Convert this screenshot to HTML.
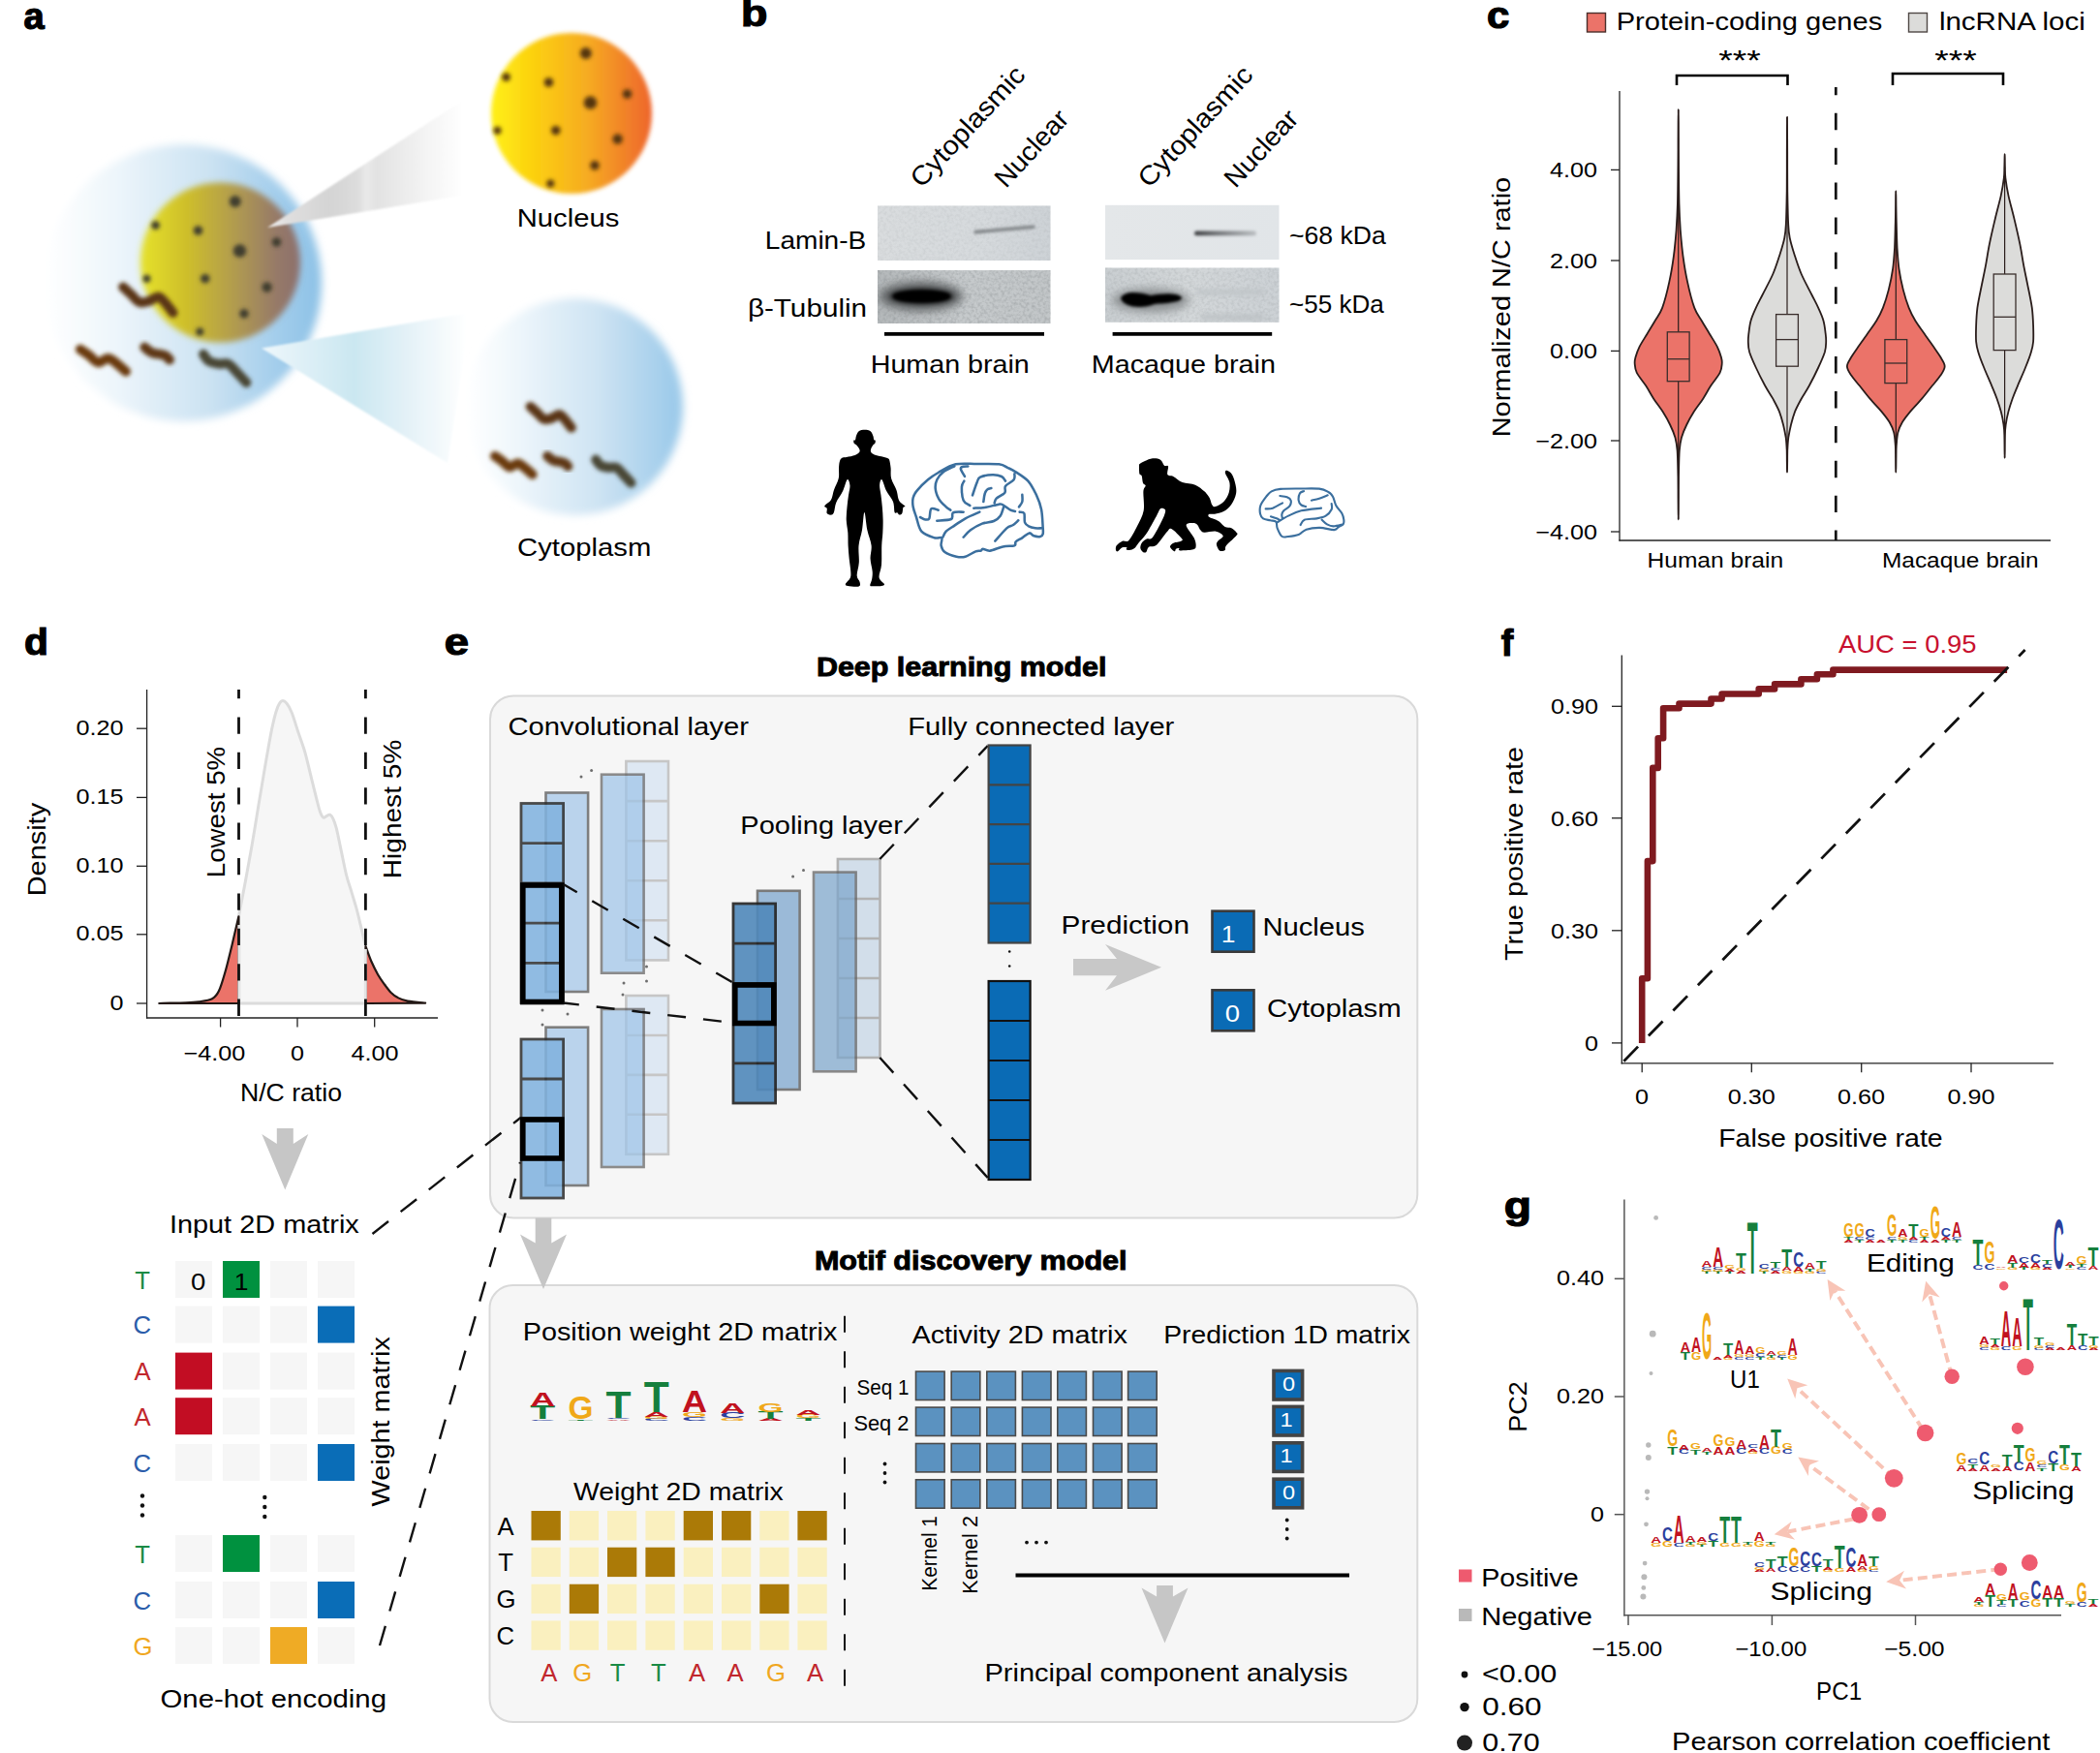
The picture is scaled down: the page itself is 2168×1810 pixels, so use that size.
<!DOCTYPE html>
<html lang="en"><head><meta charset="utf-8"><title>Figure</title>
<style>
html,body{margin:0;padding:0;background:#fff}
svg{display:block}
text{font-family:"Liberation Sans", sans-serif}
</style></head><body>
<svg width="2168" height="1810" viewBox="0 0 2168 1810">
<defs>
<filter id="bl1" x="-60%" y="-60%" width="220%" height="220%"><feGaussianBlur stdDeviation="1.2"/></filter>
<filter id="bl15" x="-60%" y="-60%" width="220%" height="220%"><feGaussianBlur stdDeviation="1.6"/></filter>
<filter id="bl2" x="-60%" y="-60%" width="220%" height="220%"><feGaussianBlur stdDeviation="2.2"/></filter>
<filter id="bl3" x="-60%" y="-60%" width="220%" height="220%"><feGaussianBlur stdDeviation="3"/></filter>
<filter id="bl4" x="-60%" y="-60%" width="220%" height="220%"><feGaussianBlur stdDeviation="4"/></filter>
<filter id="bl6" x="-60%" y="-60%" width="220%" height="220%"><feGaussianBlur stdDeviation="6"/></filter>
<linearGradient id="gCell" x1="0" y1="0" x2="1" y2="0">
<stop offset="0" stop-color="#ffffff"/><stop offset="0.25" stop-color="#eef6fb"/><stop offset="0.6" stop-color="#cbe2f2"/><stop offset="0.82" stop-color="#a6cfec"/><stop offset="1" stop-color="#8cc1e6"/></linearGradient>
<linearGradient id="gCell2" x1="0" y1="0" x2="1" y2="0">
<stop offset="0" stop-color="#ffffff"/><stop offset="0.2" stop-color="#f1f8fc"/><stop offset="0.6" stop-color="#cfe4f3"/><stop offset="1" stop-color="#98c8e9"/></linearGradient>
<linearGradient id="gNucS" x1="0" y1="0" x2="1" y2="0">
<stop offset="0" stop-color="#e6e22a"/><stop offset="0.3" stop-color="#cdbd2c"/><stop offset="0.6" stop-color="#b09a50"/><stop offset="0.85" stop-color="#967a68"/><stop offset="1" stop-color="#8c6f6d"/></linearGradient>
<linearGradient id="gNucB" x1="0" y1="0" x2="1" y2="0">
<stop offset="0" stop-color="#fff01a"/><stop offset="0.25" stop-color="#fcd20e"/><stop offset="0.6" stop-color="#f6ab22"/><stop offset="1" stop-color="#ee652d"/></linearGradient>
<linearGradient id="gConeG" gradientUnits="userSpaceOnUse" x1="276" y1="0" x2="478" y2="0">
<stop offset="0" stop-color="#f0eeee"/><stop offset="0.094" stop-color="#e0dfdf"/><stop offset="0.317" stop-color="#d4d4d4"/><stop offset="0.46" stop-color="#dcdcdc"/><stop offset="0.505" stop-color="#e9e9e9"/><stop offset="0.56" stop-color="#e2e2e2"/><stop offset="0.8" stop-color="#f3f3f3"/><stop offset="1" stop-color="#ffffff"/></linearGradient>
<linearGradient id="gConeB" gradientUnits="userSpaceOnUse" x1="270" y1="0" x2="482" y2="0">
<stop offset="0" stop-color="#eef7fb"/><stop offset="0.45" stop-color="#cbe7f1"/><stop offset="0.7" stop-color="#e3f1f7"/><stop offset="1" stop-color="#ffffff"/></linearGradient>
</defs>
<circle cx="189" cy="292" r="143" fill="url(#gCell)" filter="url(#bl4)"/>
<circle cx="227.5" cy="271" r="82.5" fill="url(#gNucS)" filter="url(#bl3)"/>
<g fill="#3f3d2e" filter="url(#bl2)"><circle cx="242.8" cy="208.0" r="6.0"/><circle cx="160.6" cy="232.6" r="4.4"/><circle cx="204.5" cy="238.0" r="4.8"/><circle cx="247.5" cy="259.0" r="6.8"/><circle cx="285.5" cy="250.0" r="4.8"/><circle cx="151.5" cy="287.7" r="4.0"/><circle cx="211.8" cy="287.7" r="4.8"/><circle cx="275.6" cy="296.5" r="5.2"/><circle cx="252.0" cy="323.8" r="4.8"/><circle cx="206.3" cy="342.5" r="4.0"/></g>
<circle cx="590" cy="117" r="83" fill="url(#gNucB)" filter="url(#bl2)"/>
<g fill="#55350e" filter="url(#bl2)"><circle cx="604.8" cy="55.0" r="6.0"/><circle cx="522.6" cy="79.6" r="4.4"/><circle cx="566.5" cy="85.0" r="4.8"/><circle cx="609.5" cy="106.0" r="6.8"/><circle cx="647.5" cy="97.0" r="4.8"/><circle cx="513.5" cy="134.7" r="4.0"/><circle cx="573.8" cy="134.7" r="4.8"/><circle cx="637.6" cy="143.5" r="5.2"/><circle cx="614.0" cy="170.8" r="4.8"/><circle cx="568.3" cy="189.5" r="4.0"/></g>
<circle cx="593" cy="420" r="112" fill="url(#gCell2)" filter="url(#bl4)"/>
<path d="M127.1 296.4C128.5 297.7 132.8 301.7 135.7 304.3C138.6 306.9 141.2 311.0 144.3 312.1C147.4 313.2 151.1 311.6 154.3 310.7C157.5 309.8 160.8 305.9 163.6 306.4C166.4 306.9 168.9 310.9 171.4 313.6C173.9 316.4 177.4 321.3 178.6 322.9" fill="none" stroke="#5a3413" stroke-width="10" stroke-linecap="round" filter="url(#bl2)"/>
<path d="M82.9 360.7C84.4 361.8 89.0 364.8 92.1 367.1C95.2 369.4 98.2 373.8 101.4 374.3C104.6 374.8 108.3 369.9 111.4 370.0C114.5 370.1 116.9 372.7 120.0 375.0C123.1 377.3 128.3 382.2 130.0 383.6" fill="none" stroke="#6a3a0e" stroke-width="10" stroke-linecap="round" filter="url(#bl2)"/>
<path d="M149.3 358.6C150.6 359.6 154.5 363.1 157.1 364.3C159.7 365.5 162.7 365.2 165.0 365.7C167.3 366.2 169.0 366.2 170.7 367.1C172.4 368.1 174.3 370.7 175.0 371.4" fill="none" stroke="#5e3714" stroke-width="10" stroke-linecap="round" filter="url(#bl2)"/>
<path d="M210.0 365.7C210.9 366.9 213.1 371.2 215.7 372.9C218.3 374.6 222.4 375.2 225.7 375.7C229.0 376.2 232.6 374.3 235.7 375.7C238.8 377.1 241.2 381.1 244.3 384.3C247.4 387.5 252.6 393.2 254.3 395.0" fill="none" stroke="#4a4636" stroke-width="10" stroke-linecap="round" filter="url(#bl2)"/>
<path d="M547.6 419.9C548.8 421.0 552.3 424.2 554.7 426.4C557.0 428.5 559.2 431.9 561.7 432.8C564.2 433.6 567.3 432.4 569.9 431.6C572.5 430.8 575.2 427.7 577.5 428.1C579.9 428.5 581.9 431.7 583.9 434.0C586.0 436.3 588.8 440.4 589.8 441.6" fill="none" stroke="#5a3413" stroke-width="10" stroke-linecap="round" filter="url(#bl2)"/>
<path d="M511.0 471.0C512.3 471.9 516.0 474.4 518.5 476.2C521.1 478.1 523.5 481.8 526.2 482.2C528.8 482.5 531.8 478.5 534.4 478.6C536.9 478.7 538.9 480.9 541.4 482.7C544.0 484.6 548.3 488.6 549.6 489.8" fill="none" stroke="#6a3a0e" stroke-width="10" stroke-linecap="round" filter="url(#bl2)"/>
<path d="M565.2 471.0C566.3 471.8 569.5 474.7 571.6 475.7C573.7 476.6 576.2 476.4 578.1 476.8C579.9 477.2 581.4 477.2 582.7 478.0C584.1 478.7 585.7 480.9 586.3 481.5" fill="none" stroke="#5e3714" stroke-width="10" stroke-linecap="round" filter="url(#bl2)"/>
<path d="M615.2 474.6C616.0 475.6 617.7 479.1 619.9 480.5C622.0 481.9 625.3 482.4 628.1 482.8C630.8 483.2 633.7 481.6 636.3 482.8C638.8 484.0 640.8 487.2 643.3 489.9C645.9 492.5 650.2 497.2 651.5 498.6" fill="none" stroke="#4a4636" stroke-width="10" stroke-linecap="round" filter="url(#bl2)"/>
<path d="M276 235L488 97L488 200Z" fill="url(#gConeG)" filter="url(#bl1)"/>
<path d="M270 359.5L486 322.8L462 478Z" fill="url(#gConeB)" filter="url(#bl1)"/>
<text x="533.7" y="234.0" font-size="26.5" textLength="105.6" lengthAdjust="spacingAndGlyphs">Nucleus</text>
<text x="534.0" y="574.0" font-size="26.5" textLength="138.3" lengthAdjust="spacingAndGlyphs">Cytoplasm</text>
<text x="24.5" y="30.0" font-size="38" textLength="21.2" lengthAdjust="spacingAndGlyphs" font-weight="bold" stroke="#000" stroke-width="1.2">a</text>
<text x="764.9" y="27.4" font-size="38" textLength="27.4" lengthAdjust="spacingAndGlyphs" font-weight="bold" stroke="#000" stroke-width="1.2">b</text>
<defs>
<filter id="bb1" x="-30%" y="-100%" width="160%" height="300%"><feGaussianBlur stdDeviation="1.6"/></filter>
<filter id="bb2" x="-30%" y="-100%" width="160%" height="300%"><feGaussianBlur stdDeviation="2.6"/></filter>
<filter id="bb3" x="-30%" y="-100%" width="160%" height="300%"><feGaussianBlur stdDeviation="5"/></filter>
<linearGradient id="gB1" x1="0" y1="0" x2="1" y2="0"><stop offset="0" stop-color="#d9dcde"/><stop offset="0.6" stop-color="#d6dadd"/><stop offset="1" stop-color="#cdd2d6"/></linearGradient>
<linearGradient id="gB2" x1="0" y1="0" x2="1" y2="0"><stop offset="0" stop-color="#b4b8ba"/><stop offset="0.5" stop-color="#c6cacc"/><stop offset="1" stop-color="#c2c6c8"/></linearGradient>
<linearGradient id="gB3" x1="0" y1="0" x2="1" y2="0"><stop offset="0" stop-color="#e4e7e9"/><stop offset="1" stop-color="#e1e5e8"/></linearGradient>
<linearGradient id="gB4" x1="0" y1="0" x2="1" y2="0"><stop offset="0" stop-color="#c9ced1"/><stop offset="0.5" stop-color="#d3d7d9"/><stop offset="1" stop-color="#ccd1d5"/></linearGradient>
<linearGradient id="gBand" x1="0" y1="0" x2="1" y2="0"><stop offset="0" stop-color="#3c3e40"/><stop offset="0.35" stop-color="#6c6f72"/><stop offset="1" stop-color="#b9bdc0"/></linearGradient>
<filter id="grain" x="0" y="0" width="100%" height="100%"><feTurbulence type="fractalNoise" baseFrequency="0.32" numOctaves="2" seed="7" result="n"/><feColorMatrix in="n" type="matrix" values="0 0 0 0 0.25  0 0 0 0 0.27  0 0 0 0 0.28  1.6 0 0 0 -0.62" result="g"/><feComposite in="g" in2="SourceGraphic" operator="in"/></filter>
<clipPath id="cB2"><rect x="906" y="279" width="178.5" height="55"/></clipPath>
<clipPath id="cB4"><rect x="1141" y="276.5" width="179.5" height="56.3"/></clipPath>
</defs>
<rect x="906.0" y="212.4" width="178.5" height="56.6" fill="url(#gB1)"/>
<rect x="906.0" y="279.0" width="178.5" height="55.0" fill="url(#gB2)"/>
<rect x="1141.0" y="211.8" width="179.5" height="56.3" fill="url(#gB3)"/>
<rect x="1141.0" y="276.5" width="179.5" height="56.3" fill="url(#gB4)"/>
<rect x="906.0" y="279.0" width="178.5" height="55.0" fill="#000" filter="url(#grain)" opacity="0.55"/>
<rect x="1141.0" y="276.5" width="179.5" height="56.3" fill="#000" filter="url(#grain)" opacity="0.3"/>
<rect x="906.0" y="212.4" width="178.5" height="56.6" fill="#000" filter="url(#grain)" opacity="0.18"/>
<path d="M1007 239.6L1067 234.2" stroke="#808487" stroke-width="3.6" stroke-linecap="round" filter="url(#bb1)"/>
<g clip-path="url(#cB2)"><ellipse cx="951" cy="306" rx="43" ry="15" fill="#5c5f61" filter="url(#bb3)"/><ellipse cx="951.5" cy="306" rx="32" ry="7.4" fill="#000" filter="url(#bb2)"/><ellipse cx="951.5" cy="306" rx="29" ry="5.6" fill="#000" filter="url(#bb1)"/></g>
<rect x="1233" y="238.6" width="64" height="4.6" rx="2.3" fill="url(#gBand)" filter="url(#bb1)"/>
<g clip-path="url(#cB4)"><ellipse cx="1188" cy="310" rx="40" ry="12" fill="#8a8e90" filter="url(#bb3)"/><path d="M1157 308C1160 300 1175 301 1188 305C1200 303 1215 302 1220 307C1221 312 1205 313 1192 314C1180 319 1160 318 1157 308Z" fill="#000" filter="url(#bb1)"/><rect x="1235" y="299" width="70" height="5" fill="#bfc4c7" filter="url(#bb2)"/><rect x="1240" y="325" width="65" height="5" fill="#bcc1c4" filter="url(#bb2)"/></g>
<line x1="913.0" y1="344.8" x2="1078.0" y2="344.8" stroke="#000" stroke-width="3.8"/>
<line x1="1148.6" y1="344.8" x2="1313.2" y2="344.8" stroke="#000" stroke-width="3.8"/>
<text x="898.7" y="385.0" font-size="26.5" textLength="164.1" lengthAdjust="spacingAndGlyphs">Human brain</text>
<text x="1126.7" y="385.0" font-size="26.5" textLength="190.2" lengthAdjust="spacingAndGlyphs">Macaque brain</text>
<text x="789.8" y="257.0" font-size="26.5" textLength="104.5" lengthAdjust="spacingAndGlyphs">Lamin-B</text>
<text x="771.9" y="327.0" font-size="26.5" textLength="123.2" lengthAdjust="spacingAndGlyphs">β-Tubulin</text>
<text x="1330.9" y="252.0" font-size="26.5" textLength="99.9" lengthAdjust="spacingAndGlyphs">~68 kDa</text>
<text x="1331.0" y="323.0" font-size="26.5" textLength="97.8" lengthAdjust="spacingAndGlyphs">~55 kDa</text>
<text x="951.0" y="194.0" font-size="27.5" textLength="159.2" lengthAdjust="spacingAndGlyphs" transform="rotate(-47 952.5 194.0)">Cytoplasmic</text>
<text x="1037.7" y="193.5" font-size="27.5" textLength="97.7" lengthAdjust="spacingAndGlyphs" transform="rotate(-47 1040.0 193.5)">Nuclear</text>
<text x="1186.0" y="194.0" font-size="27.5" textLength="159.2" lengthAdjust="spacingAndGlyphs" transform="rotate(-47 1187.5 194.0)">Cytoplasmic</text>
<text x="1274.7" y="193.5" font-size="27.5" textLength="97.7" lengthAdjust="spacingAndGlyphs" transform="rotate(-47 1277.0 193.5)">Nuclear</text>
<g transform="translate(830 430) scale(0.13333)"><path d="M470.0 104.0C455.0 104.0 435.8 107.3 425.0 115.0C414.2 122.7 409.5 139.2 405.0 150.0C400.5 160.8 401.3 174.0 398.0 180.0C394.7 186.0 386.7 181.3 385.0 186.0C383.3 190.7 383.8 201.5 388.0 208.0C392.2 214.5 403.0 217.2 410.0 225.0C417.0 232.8 427.0 246.2 430.0 255.0C433.0 263.8 433.8 270.5 428.0 278.0C422.2 285.5 411.3 293.8 395.0 300.0C378.7 306.2 347.2 311.3 330.0 315.0C312.8 318.7 301.0 316.2 292.0 322.0C283.0 327.8 279.7 337.0 276.0 350.0C272.3 363.0 271.3 378.3 270.0 400.0C268.7 421.7 274.3 451.7 268.0 480.0C261.7 508.3 241.7 542.5 232.0 570.0C222.3 597.5 222.0 624.7 210.0 645.0C198.0 665.3 165.3 680.8 160.0 692.0C154.7 703.2 175.3 703.2 178.0 712.0C180.7 720.8 174.3 737.3 176.0 745.0C177.7 752.7 182.0 755.2 188.0 758.0C194.0 760.8 204.7 764.7 212.0 762.0C219.3 759.3 225.7 758.2 232.0 742.0C238.3 725.8 238.7 692.0 250.0 665.0C261.3 638.0 285.7 609.5 300.0 580.0C314.3 550.5 326.7 495.5 336.0 488.0C345.3 480.5 354.5 514.7 356.0 535.0C357.5 555.3 348.7 582.5 345.0 610.0C341.3 637.5 336.8 668.3 334.0 700.0C331.2 731.7 327.0 766.7 328.0 800.0C329.0 833.3 337.7 866.7 340.0 900.0C342.3 933.3 340.3 966.7 342.0 1000.0C343.7 1033.3 346.7 1066.7 350.0 1100.0C353.3 1133.3 360.7 1175.0 362.0 1200.0C363.3 1225.0 364.7 1234.0 358.0 1250.0C351.3 1266.0 325.0 1285.7 322.0 1296.0C319.0 1306.3 322.8 1308.7 340.0 1312.0C357.2 1315.3 409.7 1321.0 425.0 1316.0C440.3 1311.0 434.5 1296.0 432.0 1282.0C429.5 1268.0 411.0 1257.3 410.0 1232.0C409.0 1206.7 423.7 1168.7 426.0 1130.0C428.3 1091.3 420.0 1041.7 424.0 1000.0C428.0 958.3 442.7 923.0 450.0 880.0C457.3 837.0 461.3 742.0 468.0 742.0C474.7 742.0 481.0 837.0 490.0 880.0C499.0 923.0 518.0 963.3 522.0 1000.0C526.0 1036.7 512.7 1066.7 514.0 1100.0C515.3 1133.3 528.0 1173.3 530.0 1200.0C532.0 1226.7 529.0 1242.0 526.0 1260.0C523.0 1278.0 509.7 1299.0 512.0 1308.0C514.3 1317.0 525.3 1313.3 540.0 1314.0C554.7 1314.7 586.3 1314.7 600.0 1312.0C613.7 1309.3 625.0 1309.0 622.0 1298.0C619.0 1287.0 585.7 1270.7 582.0 1246.0C578.3 1221.3 596.7 1191.0 600.0 1150.0C603.3 1109.0 600.3 1041.7 602.0 1000.0C603.7 958.3 608.3 933.3 610.0 900.0C611.7 866.7 612.7 833.3 612.0 800.0C611.3 766.7 608.7 731.7 606.0 700.0C603.3 668.3 599.3 637.5 596.0 610.0C592.7 582.5 585.0 555.3 586.0 535.0C587.0 514.7 593.0 480.5 602.0 488.0C611.0 495.5 625.3 551.3 640.0 580.0C654.7 608.7 679.7 633.0 690.0 660.0C700.3 687.0 696.7 727.8 702.0 742.0C707.3 756.2 716.0 741.7 722.0 745.0C728.0 748.3 731.7 761.2 738.0 762.0C744.3 762.8 755.0 759.5 760.0 750.0C765.0 740.5 764.3 714.3 768.0 705.0C771.7 695.7 787.3 703.2 782.0 694.0C776.7 684.8 747.0 670.7 736.0 650.0C725.0 629.3 726.0 598.3 716.0 570.0C706.0 541.7 683.3 508.3 676.0 480.0C668.7 451.7 674.3 423.3 672.0 400.0C669.7 376.7 665.7 352.7 662.0 340.0C658.3 327.3 660.3 329.0 650.0 324.0C639.7 319.0 617.5 314.7 600.0 310.0C582.5 305.3 558.3 301.3 545.0 296.0C531.7 290.7 524.5 284.8 520.0 278.0C515.5 271.2 515.5 264.3 518.0 255.0C520.5 245.7 529.7 229.8 535.0 222.0C540.3 214.2 547.0 214.0 550.0 208.0C553.0 202.0 554.3 190.7 553.0 186.0C551.7 181.3 545.0 186.0 542.0 180.0C539.0 174.0 539.5 160.8 535.0 150.0C530.5 139.2 525.8 122.7 515.0 115.0C504.2 107.3 485.0 104.0 470.0 104.0Z" fill="#000"/></g>
<g transform="translate(830 430) scale(0.13333)"><path d="M1175.0 370.0C1225.0 358.8 1284.2 368.0 1340.0 368.0C1395.8 368.0 1470.0 365.0 1510.0 370.0C1550.0 375.0 1558.3 388.0 1580.0 398.0C1601.7 408.0 1614.2 413.0 1640.0 430.0C1665.8 447.0 1708.3 470.0 1735.0 500.0C1761.7 530.0 1782.8 573.3 1800.0 610.0C1817.2 646.7 1829.7 678.3 1838.0 720.0C1846.3 761.7 1848.0 828.3 1850.0 860.0C1852.0 891.7 1853.3 898.3 1850.0 910.0C1846.7 921.7 1841.7 927.5 1830.0 930.0C1818.3 932.5 1794.2 929.5 1780.0 925.0C1765.8 920.5 1760.0 900.5 1745.0 903.0C1730.0 905.5 1707.5 928.8 1690.0 940.0C1672.5 951.2 1650.0 960.0 1640.0 970.0C1630.0 980.0 1646.7 993.7 1630.0 1000.0C1613.3 1006.3 1571.7 1001.3 1540.0 1008.0C1508.3 1014.7 1465.8 1037.2 1440.0 1040.0C1414.2 1042.8 1396.7 1025.0 1385.0 1025.0C1373.3 1025.0 1379.2 1036.7 1370.0 1040.0C1360.8 1043.3 1350.0 1037.5 1330.0 1045.0C1310.0 1052.5 1275.0 1078.3 1250.0 1085.0C1225.0 1091.7 1206.7 1090.8 1180.0 1085.0C1153.3 1079.2 1109.7 1064.2 1090.0 1050.0C1070.3 1035.8 1066.0 1018.3 1062.0 1000.0C1058.0 981.7 1074.7 950.0 1066.0 940.0C1057.3 930.0 1036.0 948.3 1010.0 940.0C984.0 931.7 933.3 916.7 910.0 890.0C886.7 863.3 880.8 811.7 870.0 780.0C859.2 748.3 849.2 725.0 845.0 700.0C840.8 675.0 840.0 650.8 845.0 630.0C850.0 609.2 855.8 598.3 875.0 575.0C894.2 551.7 932.5 513.3 960.0 490.0C987.5 466.7 1004.2 455.0 1040.0 435.0C1075.8 415.0 1125.0 381.2 1175.0 370.0ZM1165.0 385.0C1150.8 392.5 1102.5 412.5 1080.0 430.0C1057.5 447.5 1040.3 468.3 1030.0 490.0C1019.7 511.7 1015.5 535.0 1018.0 560.0C1020.5 585.0 1031.3 616.7 1045.0 640.0C1058.7 663.3 1085.0 685.8 1100.0 700.0C1115.0 714.2 1129.2 720.8 1135.0 725.0M1270.0 386.0C1262.0 387.0 1231.2 388.0 1222.0 392.0C1212.8 396.0 1211.2 397.8 1215.0 410.0C1218.8 422.2 1240.0 455.8 1245.0 465.0M1240.0 500.0C1237.0 507.5 1222.8 520.0 1222.0 545.0C1221.2 570.0 1224.5 625.8 1235.0 650.0C1245.5 674.2 1276.7 683.3 1285.0 690.0M1305.0 610.0C1310.8 593.3 1330.0 533.3 1340.0 510.0C1350.0 486.7 1345.0 479.7 1365.0 470.0C1385.0 460.3 1432.5 452.8 1460.0 452.0C1487.5 451.2 1513.3 457.0 1530.0 465.0C1546.7 473.0 1555.0 494.2 1560.0 500.0M1390.0 660.0C1391.7 650.0 1395.0 615.8 1400.0 600.0C1405.0 584.2 1411.7 572.5 1420.0 565.0C1428.3 557.5 1445.0 556.7 1450.0 555.0M1630.0 445.0C1629.2 452.5 1636.7 474.2 1625.0 490.0C1613.3 505.8 1571.7 523.3 1560.0 540.0C1548.3 556.7 1566.7 574.2 1555.0 590.0C1543.3 605.8 1503.3 621.7 1490.0 635.0C1476.7 648.3 1477.5 664.2 1475.0 670.0M1315.0 710.0C1329.2 709.2 1367.5 710.0 1400.0 705.0C1432.5 700.0 1486.7 683.3 1510.0 680.0C1533.3 676.7 1525.0 677.5 1540.0 685.0C1555.0 692.5 1584.2 716.7 1600.0 725.0C1615.8 733.3 1629.2 733.3 1635.0 735.0M1690.0 605.0C1690.0 614.2 1694.2 644.2 1690.0 660.0C1685.8 675.8 1669.2 693.3 1665.0 700.0M1670.0 740.0C1675.8 741.7 1698.3 736.7 1705.0 750.0C1711.7 763.3 1704.2 803.3 1710.0 820.0C1715.8 836.7 1726.7 842.5 1740.0 850.0C1753.3 857.5 1773.3 862.5 1790.0 865.0C1806.7 867.5 1831.7 865.0 1840.0 865.0M1075.0 935.0C1079.2 927.5 1087.5 903.3 1100.0 890.0C1112.5 876.7 1125.0 871.7 1150.0 855.0C1175.0 838.3 1215.0 809.2 1250.0 790.0C1285.0 770.8 1341.7 748.3 1360.0 740.0M1545.0 705.0C1540.8 715.8 1532.5 752.5 1520.0 770.0C1507.5 787.5 1493.3 800.0 1470.0 810.0C1446.7 820.0 1410.0 818.3 1380.0 830.0C1350.0 841.7 1314.2 862.5 1290.0 880.0C1265.8 897.5 1244.2 925.8 1235.0 935.0M1660.0 805.0C1653.3 810.8 1635.0 830.0 1620.0 840.0C1605.0 850.0 1593.3 844.2 1570.0 865.0C1546.7 885.8 1495.0 948.3 1480.0 965.0M900.0 780.0C906.7 783.0 928.3 796.3 940.0 798.0C951.7 799.7 962.5 803.8 970.0 790.0C977.5 776.2 973.3 725.8 985.0 715.0C996.7 704.2 1030.8 723.3 1040.0 725.0M1030.0 808.0C1048.3 805.8 1119.2 805.5 1140.0 795.0C1160.8 784.5 1139.2 754.2 1155.0 745.0C1170.8 735.8 1221.7 740.8 1235.0 740.0" fill="none" stroke="#3b6f9e" stroke-width="19" stroke-linecap="round" stroke-linejoin="round"/></g>
<g transform="translate(1130 450) scale(0.13333)"><path d="M350.0 218.0C357.5 211.3 373.3 202.2 390.0 195.0C406.7 187.8 430.0 176.7 450.0 175.0C470.0 173.3 495.0 175.8 510.0 185.0C525.0 194.2 530.0 221.7 540.0 230.0C550.0 238.3 565.8 223.3 570.0 235.0C574.2 246.7 558.3 286.7 565.0 300.0C571.7 313.3 590.8 305.0 610.0 315.0C629.2 325.0 651.7 349.2 680.0 360.0C708.3 370.8 751.7 368.3 780.0 380.0C808.3 391.7 831.7 413.3 850.0 430.0C868.3 446.7 880.0 462.5 890.0 480.0C900.0 497.5 902.5 523.7 910.0 535.0C917.5 546.3 920.0 552.2 935.0 548.0C950.0 543.8 982.5 528.0 1000.0 510.0C1017.5 492.0 1032.5 465.0 1040.0 440.0C1047.5 415.0 1049.7 385.3 1045.0 360.0C1040.3 334.7 1015.3 303.3 1012.0 288.0C1008.7 272.7 1016.2 266.0 1025.0 268.0C1033.8 270.0 1053.8 281.3 1065.0 300.0C1076.2 318.7 1087.0 355.0 1092.0 380.0C1097.0 405.0 1100.3 425.0 1095.0 450.0C1089.7 475.0 1075.8 507.5 1060.0 530.0C1044.2 552.5 1021.7 572.5 1000.0 585.0C978.3 597.5 949.2 601.2 930.0 605.0C910.8 608.8 891.7 603.8 885.0 608.0C878.3 612.2 877.5 621.3 890.0 630.0C902.5 638.7 940.0 647.5 960.0 660.0C980.0 672.5 993.3 695.8 1010.0 705.0C1026.7 714.2 1045.0 707.5 1060.0 715.0C1075.0 722.5 1093.3 740.8 1100.0 750.0C1106.7 759.2 1113.3 753.3 1100.0 770.0C1086.7 786.7 1035.0 830.8 1020.0 850.0C1005.0 869.2 1018.3 878.3 1010.0 885.0C1001.7 891.7 980.8 896.7 970.0 890.0C959.2 883.3 947.5 857.5 945.0 845.0C942.5 832.5 946.7 826.7 955.0 815.0C963.3 803.3 997.5 787.5 995.0 775.0C992.5 762.5 964.2 744.5 940.0 740.0C915.8 735.5 870.0 749.7 850.0 748.0C830.0 746.3 830.8 741.3 820.0 730.0C809.2 718.7 803.3 686.7 785.0 680.0C766.7 673.3 712.5 671.7 710.0 690.0C707.5 708.3 757.5 763.3 770.0 790.0C782.5 816.7 785.8 835.0 785.0 850.0C784.2 865.0 785.8 873.7 765.0 880.0C744.2 886.3 678.3 889.7 660.0 888.0C641.7 886.3 660.0 872.2 655.0 870.0C650.0 867.8 635.8 870.8 630.0 875.0C624.2 879.2 627.5 897.5 620.0 895.0C612.5 892.5 586.7 870.8 585.0 860.0C583.3 849.2 595.8 837.5 610.0 830.0C624.2 822.5 659.2 820.8 670.0 815.0C680.8 809.2 687.5 810.8 675.0 795.0C662.5 779.2 614.2 728.3 595.0 720.0C575.8 711.7 579.2 724.2 560.0 745.0C540.8 765.8 503.3 825.8 480.0 845.0C456.7 864.2 433.3 850.8 420.0 860.0C406.7 869.2 407.5 893.3 400.0 900.0C392.5 906.7 382.5 905.0 375.0 900.0C367.5 895.0 356.7 881.7 355.0 870.0C353.3 858.3 357.5 841.7 365.0 830.0C372.5 818.3 385.8 807.5 400.0 800.0C414.2 792.5 430.0 808.3 450.0 785.0C470.0 761.7 504.2 690.8 520.0 660.0C535.8 629.2 540.8 615.0 545.0 600.0C549.2 585.0 550.8 575.8 545.0 570.0C539.2 564.2 520.8 556.7 510.0 565.0C499.2 573.3 498.3 587.5 480.0 620.0C461.7 652.5 423.3 725.0 400.0 760.0C376.7 795.0 355.0 811.7 340.0 830.0C325.0 848.3 321.7 860.8 310.0 870.0C298.3 879.2 280.8 883.3 270.0 885.0C259.2 886.7 248.3 883.3 245.0 880.0C241.7 876.7 255.0 867.5 250.0 865.0C245.0 862.5 226.7 860.0 215.0 865.0C203.3 870.0 188.3 891.7 180.0 895.0C171.7 898.3 166.7 892.5 165.0 885.0C163.3 877.5 161.7 861.7 170.0 850.0C178.3 838.3 199.2 821.7 215.0 815.0C230.8 808.3 245.8 829.2 265.0 810.0C284.2 790.8 310.8 738.3 330.0 700.0C349.2 661.7 372.0 625.0 380.0 580.0C388.0 535.0 375.5 462.5 378.0 430.0C380.5 397.5 395.5 395.8 395.0 385.0C394.5 374.2 380.0 377.5 375.0 365.0C370.0 352.5 369.5 321.7 365.0 310.0C360.5 298.3 351.3 307.5 348.0 295.0C344.7 282.5 344.7 247.8 345.0 235.0C345.3 222.2 342.5 224.7 350.0 218.0Z" fill="#000"/></g>
<g transform="translate(1130 450) scale(0.13333)"><path d="M1370.0 430.0C1388.3 420.3 1403.3 415.5 1440.0 412.0C1476.7 408.5 1540.0 409.3 1590.0 409.0C1640.0 408.7 1703.3 405.7 1740.0 410.0C1776.7 414.3 1792.5 425.0 1810.0 435.0C1827.5 445.0 1835.0 452.5 1845.0 470.0C1855.0 487.5 1858.3 518.3 1870.0 540.0C1881.7 561.7 1905.0 581.7 1915.0 600.0C1925.0 618.3 1928.3 635.8 1930.0 650.0C1931.7 664.2 1931.7 675.8 1925.0 685.0C1918.3 694.2 1901.7 697.8 1890.0 705.0C1878.3 712.2 1879.2 726.8 1855.0 728.0C1830.8 729.2 1780.8 712.5 1745.0 712.0C1709.2 711.5 1667.5 716.2 1640.0 725.0C1612.5 733.8 1603.3 755.8 1580.0 765.0C1556.7 774.2 1521.7 777.8 1500.0 780.0C1478.3 782.2 1464.2 788.8 1450.0 778.0C1435.8 767.2 1422.5 733.8 1415.0 715.0C1407.5 696.2 1414.2 675.0 1405.0 665.0C1395.8 655.0 1376.7 659.2 1360.0 655.0C1343.3 650.8 1317.8 648.3 1305.0 640.0C1292.2 631.7 1286.3 621.7 1283.0 605.0C1279.7 588.3 1277.2 562.5 1285.0 540.0C1292.8 517.5 1315.8 488.3 1330.0 470.0C1344.2 451.7 1351.7 439.7 1370.0 430.0ZM1435.0 465.0C1444.2 466.7 1475.8 469.2 1490.0 475.0C1504.2 480.8 1516.7 488.3 1520.0 500.0C1523.3 511.7 1519.2 531.7 1510.0 545.0C1500.8 558.3 1475.0 569.2 1465.0 580.0C1455.0 590.8 1451.7 600.0 1450.0 610.0C1448.3 620.0 1454.2 635.0 1455.0 640.0M1325.0 565.0C1334.2 564.2 1358.3 567.5 1380.0 560.0C1401.7 552.5 1442.5 526.7 1455.0 520.0M1620.0 428.0C1615.0 430.8 1596.7 433.0 1590.0 445.0C1583.3 457.0 1578.3 485.0 1580.0 500.0C1581.7 515.0 1590.8 527.0 1600.0 535.0C1609.2 543.0 1629.2 545.8 1635.0 548.0M1680.0 500.0C1690.0 497.5 1719.2 491.7 1740.0 485.0C1760.8 478.3 1794.2 464.2 1805.0 460.0M1415.0 670.0C1429.2 661.7 1469.2 635.0 1500.0 620.0C1530.8 605.0 1557.5 590.0 1600.0 580.0C1642.5 570.0 1729.2 563.3 1755.0 560.0M1365.0 625.0C1372.5 627.5 1399.2 635.8 1410.0 640.0C1420.8 644.2 1426.7 648.3 1430.0 650.0M1835.0 525.0C1835.0 532.5 1842.5 554.2 1835.0 570.0C1827.5 585.8 1809.2 608.3 1790.0 620.0C1770.8 631.7 1747.5 635.0 1720.0 640.0C1692.5 645.0 1645.8 641.7 1625.0 650.0C1604.2 658.3 1600.0 683.3 1595.0 690.0M1760.0 650.0C1766.7 655.8 1785.0 676.7 1800.0 685.0C1815.0 693.3 1829.2 700.0 1850.0 700.0C1870.8 700.0 1912.5 687.5 1925.0 685.0" fill="none" stroke="#3b6f9e" stroke-width="16" stroke-linecap="round" stroke-linejoin="round"/></g>
<text x="1534.9" y="29.0" font-size="38" textLength="23.3" lengthAdjust="spacingAndGlyphs" font-weight="bold" stroke="#000" stroke-width="1.2">c</text>
<rect x="1638.5" y="13.5" width="19.0" height="19.5" fill="#eb7369" stroke="#4a2f2c" stroke-width="1.4"/>
<text x="1668.7" y="31.0" font-size="26.5" textLength="274.5" lengthAdjust="spacingAndGlyphs">Protein-coding genes</text>
<rect x="1970.5" y="13.5" width="19.0" height="19.5" fill="#dcdcda" stroke="#4f4845" stroke-width="1.4"/>
<text x="2001.9" y="31.0" font-size="26.5" textLength="150.9" lengthAdjust="spacingAndGlyphs">lncRNA loci</text>
<line x1="1672.0" y1="94.0" x2="1672.0" y2="558.6" stroke="#222" stroke-width="1.3"/>
<line x1="1671.4" y1="558.0" x2="2117.0" y2="558.0" stroke="#222" stroke-width="1.3"/>
<line x1="1663.0" y1="175.4" x2="1672.0" y2="175.4" stroke="#222" stroke-width="1.3"/>
<text x="1599.9" y="183.4" font-size="22.5" textLength="49.0" lengthAdjust="spacingAndGlyphs">4.00</text>
<line x1="1663.0" y1="269.0" x2="1672.0" y2="269.0" stroke="#222" stroke-width="1.3"/>
<text x="1599.9" y="277.0" font-size="22.5" textLength="49.0" lengthAdjust="spacingAndGlyphs">2.00</text>
<line x1="1663.0" y1="362.4" x2="1672.0" y2="362.4" stroke="#222" stroke-width="1.3"/>
<text x="1599.9" y="370.4" font-size="22.5" textLength="49.0" lengthAdjust="spacingAndGlyphs">0.00</text>
<line x1="1663.0" y1="455.0" x2="1672.0" y2="455.0" stroke="#222" stroke-width="1.3"/>
<text x="1585.3" y="463.0" font-size="22.5" textLength="63.8" lengthAdjust="spacingAndGlyphs">−2.00</text>
<line x1="1663.0" y1="549.0" x2="1672.0" y2="549.0" stroke="#222" stroke-width="1.3"/>
<text x="1585.3" y="557.0" font-size="22.5" textLength="63.8" lengthAdjust="spacingAndGlyphs">−4.00</text>
<text x="1423.7" y="316.5" font-size="26.5" textLength="268.5" lengthAdjust="spacingAndGlyphs" transform="rotate(-90 1558.5 316.5)">Normalized N/C ratio</text>
<text x="1700.5" y="586.3" font-size="21.5" textLength="140.6" lengthAdjust="spacingAndGlyphs">Human brain</text>
<text x="1943.0" y="586.3" font-size="21.5" textLength="161.5" lengthAdjust="spacingAndGlyphs">Macaque brain</text>
<line x1="1895.3" y1="90.0" x2="1895.3" y2="558.0" stroke="#111" stroke-width="2.7" stroke-dasharray="17.4 18.5" stroke-dashoffset="9.1"/>
<path d="M1731 88V78H1845.5V88" fill="none" stroke="#000" stroke-width="2.6"/>
<path d="M1954 88V76H2068V88" fill="none" stroke="#000" stroke-width="2.6"/>
<text x="1774.3" y="72.0" font-size="30" textLength="43.4" lengthAdjust="spacingAndGlyphs">***</text>
<text x="1997.3" y="72.0" font-size="30" textLength="43.4" lengthAdjust="spacingAndGlyphs">***</text>
<path d="M1732.7 112.8C1732.8 112.8 1732.8 134.0 1732.9 143.6C1732.9 153.2 1732.9 159.3 1733.0 170.4C1733.1 181.6 1733.2 199.5 1733.5 210.6C1733.8 221.8 1734.2 228.5 1734.8 237.5C1735.5 246.4 1736.3 255.3 1737.5 264.3C1738.7 273.2 1740.1 282.1 1742.1 291.1C1744.0 300.0 1746.9 311.2 1749.3 317.9C1751.8 324.6 1754.2 326.8 1756.8 331.3C1759.4 335.8 1762.2 340.2 1764.9 344.7C1767.6 349.2 1770.9 354.1 1772.9 358.1C1774.9 362.1 1776.1 365.9 1776.9 368.8C1777.7 371.7 1778.0 372.8 1777.7 375.5C1777.5 378.2 1777.5 381.1 1775.6 384.9C1773.7 388.7 1769.1 393.8 1766.2 398.3C1763.3 402.8 1761.1 407.2 1758.2 411.7C1755.3 416.2 1751.6 420.7 1748.8 425.1C1746.0 429.6 1743.4 434.1 1741.3 438.5C1739.1 443.0 1737.2 447.5 1735.9 451.9C1734.7 456.4 1734.3 458.6 1733.8 465.3C1733.3 472.0 1733.2 484.1 1733.0 492.1C1732.9 500.2 1732.9 506.2 1732.9 513.6C1732.8 521.0 1732.8 536.4 1732.7 536.4C1732.6 536.4 1732.6 521.0 1732.5 513.6C1732.5 506.2 1732.5 500.2 1732.4 492.1C1732.2 484.1 1732.1 472.0 1731.6 465.3C1731.1 458.6 1730.7 456.4 1729.5 451.9C1728.2 447.5 1726.3 443.0 1724.1 438.5C1722.0 434.1 1719.4 429.6 1716.6 425.1C1713.8 420.7 1710.1 416.2 1707.2 411.7C1704.3 407.2 1702.1 402.8 1699.2 398.3C1696.3 393.8 1691.7 388.7 1689.8 384.9C1687.9 381.1 1687.9 378.2 1687.7 375.5C1687.4 372.8 1687.7 371.7 1688.5 368.8C1689.3 365.9 1690.5 362.1 1692.5 358.1C1694.5 354.1 1697.8 349.2 1700.5 344.7C1703.2 340.2 1706.0 335.8 1708.6 331.3C1711.2 326.8 1713.6 324.6 1716.1 317.9C1718.5 311.2 1721.4 300.0 1723.3 291.1C1725.3 282.1 1726.7 273.2 1727.9 264.3C1729.1 255.3 1729.9 246.4 1730.6 237.5C1731.2 228.5 1731.6 221.8 1731.9 210.6C1732.2 199.5 1732.3 181.6 1732.4 170.4C1732.5 159.3 1732.5 153.2 1732.5 143.6C1732.6 134.0 1732.6 112.8 1732.7 112.8Z" fill="#eb7369" stroke="#2a1d1b" stroke-width="1.8" stroke-linejoin="round"/>
<line x1="1732.7" y1="112.8" x2="1732.7" y2="536.4" stroke="#2a1d1b" stroke-width="1.2"/>
<rect x="1721.3" y="342.8" width="22.8" height="50.9" fill="#eb7369" stroke="#3a2e2c" stroke-width="1.3"/>
<line x1="1721.3" y1="370.7" x2="1744.1" y2="370.7" stroke="#3a2e2c" stroke-width="1.3"/>
<path d="M1845.0 120.8C1845.1 120.8 1845.1 144.3 1845.2 157.0C1845.2 169.8 1845.2 185.2 1845.3 197.2C1845.5 209.3 1845.7 221.4 1846.1 229.4C1846.5 237.5 1846.5 239.7 1847.7 245.5C1848.8 251.3 1851.0 258.0 1853.0 264.3C1855.1 270.5 1856.8 276.3 1859.7 283.0C1862.6 289.7 1867.6 298.7 1870.5 304.5C1873.4 310.3 1875.2 313.4 1877.2 317.9C1879.2 322.4 1881.3 326.8 1882.5 331.3C1883.8 335.8 1884.2 341.1 1884.7 344.7C1885.1 348.3 1885.3 349.6 1885.2 352.7C1885.1 355.9 1885.2 359.0 1883.9 363.5C1882.5 367.9 1879.9 373.7 1877.2 379.5C1874.5 385.4 1870.7 392.9 1867.8 398.3C1864.9 403.7 1862.2 407.2 1859.7 411.7C1857.3 416.2 1854.8 420.7 1853.0 425.1C1851.3 429.6 1850.1 434.1 1849.0 438.5C1847.9 443.0 1847.0 447.5 1846.3 451.9C1845.7 456.4 1845.5 461.3 1845.3 465.3C1845.2 469.4 1845.2 472.4 1845.2 476.1C1845.1 479.8 1845.1 487.6 1845.0 487.6C1844.9 487.6 1844.9 479.8 1844.8 476.1C1844.8 472.4 1844.8 469.4 1844.7 465.3C1844.5 461.3 1844.3 456.4 1843.7 451.9C1843.0 447.5 1842.1 443.0 1841.0 438.5C1839.9 434.1 1838.7 429.6 1837.0 425.1C1835.2 420.7 1832.7 416.2 1830.3 411.7C1827.8 407.2 1825.1 403.7 1822.2 398.3C1819.3 392.9 1815.5 385.4 1812.8 379.5C1810.1 373.7 1807.5 367.9 1806.1 363.5C1804.8 359.0 1804.9 355.9 1804.8 352.7C1804.7 349.6 1804.9 348.3 1805.3 344.7C1805.8 341.1 1806.2 335.8 1807.5 331.3C1808.7 326.8 1810.8 322.4 1812.8 317.9C1814.8 313.4 1816.6 310.3 1819.5 304.5C1822.4 298.7 1827.4 289.7 1830.3 283.0C1833.2 276.3 1834.9 270.5 1837.0 264.3C1839.0 258.0 1841.2 251.3 1842.3 245.5C1843.5 239.7 1843.5 237.5 1843.9 229.4C1844.3 221.4 1844.5 209.3 1844.7 197.2C1844.8 185.2 1844.8 169.8 1844.8 157.0C1844.9 144.3 1844.9 120.8 1845.0 120.8Z" fill="#dcdcda" stroke="#2a1d1b" stroke-width="1.8" stroke-linejoin="round"/>
<line x1="1845.0" y1="120.8" x2="1845.0" y2="487.6" stroke="#2a1d1b" stroke-width="1.2"/>
<rect x="1833.6" y="324.6" width="22.8" height="53.6" fill="#dcdcda" stroke="#3a2e2c" stroke-width="1.3"/>
<line x1="1833.6" y1="350.6" x2="1856.4" y2="350.6" stroke="#3a2e2c" stroke-width="1.3"/>
<path d="M1957.3 197.2C1957.4 197.2 1957.4 208.0 1957.5 213.3C1957.6 218.7 1957.6 222.3 1957.8 229.4C1958.0 236.6 1958.2 248.2 1958.6 256.2C1959.1 264.3 1959.5 270.5 1960.5 277.7C1961.5 284.8 1963.1 292.4 1964.8 299.1C1966.5 305.8 1968.6 312.5 1970.7 317.9C1972.8 323.2 1974.7 326.8 1977.4 331.3C1980.1 335.8 1983.7 340.2 1986.8 344.7C1989.9 349.2 1993.4 354.1 1996.2 358.1C1998.9 362.1 2001.5 365.5 2003.4 368.8C2005.3 372.2 2007.7 375.1 2007.7 378.2C2007.7 381.3 2005.6 384.2 2003.4 387.6C2001.3 390.9 1998.1 394.3 1994.8 398.3C1991.6 402.3 1987.9 407.2 1984.1 411.7C1980.3 416.2 1975.4 421.1 1972.0 425.1C1968.7 429.1 1966.1 432.3 1964.0 435.8C1961.9 439.4 1960.5 442.5 1959.4 446.6C1958.4 450.6 1958.2 455.5 1957.8 460.0C1957.5 464.4 1957.6 468.8 1957.5 473.4C1957.4 478.0 1957.4 487.6 1957.3 487.6C1957.2 487.6 1957.2 478.0 1957.1 473.4C1957.0 468.8 1957.1 464.4 1956.8 460.0C1956.4 455.5 1956.2 450.6 1955.2 446.6C1954.1 442.5 1952.7 439.4 1950.6 435.8C1948.5 432.3 1945.9 429.1 1942.6 425.1C1939.2 421.1 1934.3 416.2 1930.5 411.7C1926.7 407.2 1923.0 402.3 1919.8 398.3C1916.5 394.3 1913.3 390.9 1911.2 387.6C1909.0 384.2 1906.9 381.3 1906.9 378.2C1906.9 375.1 1909.3 372.2 1911.2 368.8C1913.1 365.5 1915.7 362.1 1918.4 358.1C1921.2 354.1 1924.7 349.2 1927.8 344.7C1930.9 340.2 1934.5 335.8 1937.2 331.3C1939.9 326.8 1941.8 323.2 1943.9 317.9C1946.0 312.5 1948.1 305.8 1949.8 299.1C1951.5 292.4 1953.1 284.8 1954.1 277.7C1955.1 270.5 1955.5 264.3 1956.0 256.2C1956.4 248.2 1956.6 236.6 1956.8 229.4C1957.0 222.3 1957.0 218.7 1957.1 213.3C1957.2 208.0 1957.2 197.2 1957.3 197.2Z" fill="#eb7369" stroke="#2a1d1b" stroke-width="1.8" stroke-linejoin="round"/>
<line x1="1957.3" y1="197.2" x2="1957.3" y2="487.6" stroke="#2a1d1b" stroke-width="1.2"/>
<rect x="1945.9" y="350.6" width="22.8" height="45.0" fill="#eb7369" stroke="#3a2e2c" stroke-width="1.3"/>
<line x1="1945.9" y1="375.0" x2="1968.7" y2="375.0" stroke="#3a2e2c" stroke-width="1.3"/>
<path d="M2069.6 159.2C2069.7 159.2 2069.7 169.0 2069.9 173.1C2070.0 177.2 2069.8 178.9 2070.4 183.8C2071.0 188.7 2072.2 195.9 2073.6 202.6C2075.1 209.3 2077.1 216.0 2079.0 224.0C2080.9 232.1 2083.5 242.8 2085.1 250.9C2086.8 258.9 2087.6 265.2 2088.9 272.3C2090.2 279.5 2091.7 286.2 2093.2 293.8C2094.7 301.3 2096.8 310.7 2097.8 317.9C2098.7 325.0 2098.9 330.8 2099.1 336.6C2099.3 342.5 2099.4 348.3 2099.1 352.7C2098.7 357.2 2098.3 359.0 2096.9 363.5C2095.6 367.9 2093.4 373.7 2091.0 379.5C2088.7 385.4 2085.2 392.9 2083.0 398.3C2080.8 403.7 2079.3 407.2 2077.6 411.7C2076.0 416.2 2074.5 420.7 2073.4 425.1C2072.2 429.6 2071.3 434.5 2070.7 438.5C2070.1 442.5 2070.0 443.5 2069.9 449.2C2069.7 455.0 2069.7 472.8 2069.6 472.8C2069.5 472.8 2069.5 455.0 2069.3 449.2C2069.2 443.5 2069.1 442.5 2068.5 438.5C2067.9 434.5 2067.0 429.6 2065.8 425.1C2064.7 420.7 2063.2 416.2 2061.6 411.7C2059.9 407.2 2058.4 403.7 2056.2 398.3C2054.0 392.9 2050.5 385.4 2048.2 379.5C2045.8 373.7 2043.6 367.9 2042.3 363.5C2040.9 359.0 2040.5 357.2 2040.1 352.7C2039.8 348.3 2039.9 342.5 2040.1 336.6C2040.3 330.8 2040.5 325.0 2041.4 317.9C2042.4 310.7 2044.5 301.3 2046.0 293.8C2047.5 286.2 2049.0 279.5 2050.3 272.3C2051.6 265.2 2052.4 258.9 2054.1 250.9C2055.7 242.8 2058.3 232.1 2060.2 224.0C2062.1 216.0 2064.1 209.3 2065.6 202.6C2067.0 195.9 2068.2 188.7 2068.8 183.8C2069.4 178.9 2069.2 177.2 2069.3 173.1C2069.5 169.0 2069.5 159.2 2069.6 159.2Z" fill="#dcdcda" stroke="#2a1d1b" stroke-width="1.8" stroke-linejoin="round"/>
<line x1="2069.6" y1="159.2" x2="2069.6" y2="472.8" stroke="#2a1d1b" stroke-width="1.2"/>
<rect x="2058.2" y="283.0" width="22.8" height="78.6" fill="#dcdcda" stroke="#3a2e2c" stroke-width="1.3"/>
<line x1="2058.2" y1="327.3" x2="2081.0" y2="327.3" stroke="#3a2e2c" stroke-width="1.3"/>
<text x="25.0" y="676.0" font-size="38" textLength="24.9" lengthAdjust="spacingAndGlyphs" font-weight="bold" stroke="#000" stroke-width="1.2">d</text>
<path d="M246.4 946.3C247.5 940.3 251.0 922.6 253.3 910.4C255.5 898.1 257.8 885.8 260.1 872.7C262.4 859.6 264.7 845.3 266.9 831.6C269.2 818.0 271.5 803.7 273.8 790.6C276.1 777.5 278.6 762.6 280.6 752.9C282.6 743.2 284.1 737.3 285.8 732.4C287.5 727.6 289.2 724.9 290.9 723.8C292.6 722.8 294.3 724.2 296.0 726.2C297.7 728.2 299.2 730.8 301.2 735.8C303.2 740.8 305.7 749.5 308.0 756.4C310.3 763.2 312.6 768.9 314.9 776.9C317.1 784.9 319.7 796.3 321.7 804.3C323.7 812.3 325.4 819.2 326.8 824.8C328.3 830.4 329.1 834.6 330.3 837.8C331.4 841.0 332.5 843.2 333.7 844.0C334.8 844.8 336.0 843.1 337.1 842.6C338.2 842.1 339.4 840.8 340.5 841.2C341.7 841.7 342.8 842.9 343.9 845.3C345.1 847.7 345.9 849.9 347.4 855.6C348.8 861.3 350.8 871.6 352.5 879.6C354.2 887.5 355.9 896.7 357.6 903.5C359.3 910.4 361.1 914.9 362.8 920.6C364.5 926.3 366.2 931.5 367.9 937.7C369.6 944.0 371.4 951.7 373.0 958.3C374.6 964.8 376.7 974.0 377.5 977.1L377.5 1036.0L246.4 1036.0Z" fill="#f6f6f6" stroke="#dcdcdc" stroke-width="3" stroke-linejoin="round"/>
<path d="M164.3 1036.0C168.8 1035.8 184.8 1035.6 191.6 1035.3C198.5 1035.0 200.8 1034.9 205.3 1034.3C209.9 1033.6 215.6 1033.0 219.0 1031.2C222.5 1029.3 223.6 1028.0 225.9 1023.3C228.2 1018.6 230.4 1010.8 232.7 1002.8C235.0 994.8 237.3 984.8 239.6 975.4C241.8 966.0 245.3 951.1 246.4 946.3L246.4 1036.0Z" fill="#eb7369" stroke="#231815" stroke-width="2.2" stroke-linejoin="round"/>
<path d="M377.5 1036.0L377.5 977.1C378.5 979.7 381.2 987.7 383.3 992.5C385.4 997.3 387.9 1002.2 390.1 1006.2C392.4 1010.2 394.7 1013.3 397.0 1016.5C399.3 1019.6 401.6 1022.7 403.8 1025.0C406.1 1027.3 407.8 1028.7 410.7 1030.1C413.5 1031.6 416.2 1032.7 420.9 1033.6C425.7 1034.5 436.1 1035.3 439.1 1035.6Z" fill="#eb7369" stroke="#231815" stroke-width="2.2" stroke-linejoin="round"/>
<line x1="246.9" y1="955.0" x2="246.9" y2="1034.5" stroke="#e4e4e4" stroke-width="3"/>
<line x1="377.3" y1="980.0" x2="377.3" y2="1034.5" stroke="#e4e4e4" stroke-width="3"/>
<line x1="151.6" y1="712.0" x2="151.6" y2="1051.6" stroke="#222" stroke-width="1.3"/>
<line x1="151.0" y1="1051.0" x2="452.0" y2="1051.0" stroke="#222" stroke-width="1.3"/>
<line x1="141.0" y1="752.2" x2="151.6" y2="752.2" stroke="#222" stroke-width="1.3"/>
<text x="78.4" y="758.8" font-size="22.5" textLength="49.0" lengthAdjust="spacingAndGlyphs">0.20</text>
<line x1="141.0" y1="823.4" x2="151.6" y2="823.4" stroke="#222" stroke-width="1.3"/>
<text x="78.4" y="830.0" font-size="22.5" textLength="49.0" lengthAdjust="spacingAndGlyphs">0.15</text>
<line x1="141.0" y1="894.3" x2="151.6" y2="894.3" stroke="#222" stroke-width="1.3"/>
<text x="78.4" y="900.9" font-size="22.5" textLength="49.0" lengthAdjust="spacingAndGlyphs">0.10</text>
<line x1="141.0" y1="964.8" x2="151.6" y2="964.8" stroke="#222" stroke-width="1.3"/>
<text x="78.4" y="971.4" font-size="22.5" textLength="49.0" lengthAdjust="spacingAndGlyphs">0.05</text>
<line x1="141.0" y1="1036.0" x2="151.6" y2="1036.0" stroke="#222" stroke-width="1.3"/>
<text x="113.4" y="1042.6" font-size="22.5" textLength="14.0" lengthAdjust="spacingAndGlyphs">0</text>
<line x1="227.6" y1="1051.0" x2="227.6" y2="1060.5" stroke="#222" stroke-width="1.3"/>
<text x="189.6" y="1094.5" font-size="22.5" textLength="63.8" lengthAdjust="spacingAndGlyphs">−4.00</text>
<line x1="307.0" y1="1051.0" x2="307.0" y2="1060.5" stroke="#222" stroke-width="1.3"/>
<text x="299.9" y="1094.5" font-size="22.5" textLength="14.0" lengthAdjust="spacingAndGlyphs">0</text>
<line x1="386.7" y1="1051.0" x2="386.7" y2="1060.5" stroke="#222" stroke-width="1.3"/>
<text x="362.4" y="1094.5" font-size="22.5" textLength="49.0" lengthAdjust="spacingAndGlyphs">4.00</text>
<text x="247.9" y="1136.5" font-size="26.5" textLength="105.1" lengthAdjust="spacingAndGlyphs">N/C ratio</text>
<text x="-2.3" y="876.0" font-size="26.5" textLength="96.4" lengthAdjust="spacingAndGlyphs" transform="rotate(-90 47.0 876.0)">Density</text>
<line x1="246.5" y1="712.0" x2="246.5" y2="1051.5" stroke="#111" stroke-width="2.8" stroke-dasharray="17.3 19.1" stroke-dashoffset="8"/>
<line x1="377.4" y1="712.0" x2="377.4" y2="1051.5" stroke="#111" stroke-width="2.8" stroke-dasharray="17.3 19.1" stroke-dashoffset="8"/>
<text x="163.8" y="838.0" font-size="26.5" textLength="135.4" lengthAdjust="spacingAndGlyphs" transform="rotate(-90 232.0 838.0)">Lowest 5%</text>
<text x="341.8" y="835.0" font-size="26.5" textLength="143.5" lengthAdjust="spacingAndGlyphs" transform="rotate(-90 414.0 835.0)">Highest 5%</text>
<path d="M285.8 1165.0H302.8V1181.0L318.3 1171.0L294.3 1228.5L270.3 1171.0L285.8 1181.0Z" fill="#c6c6c6"/>
<text x="174.9" y="1273.0" font-size="26.5" textLength="195.9" lengthAdjust="spacingAndGlyphs">Input 2D matrix</text>
<rect x="181.0" y="1302.0" width="38.0" height="38.0" fill="#f6f6f6"/>
<rect x="230.0" y="1302.0" width="38.0" height="38.0" fill="#00913f"/>
<rect x="279.0" y="1302.0" width="38.0" height="38.0" fill="#f6f6f6"/>
<rect x="328.0" y="1302.0" width="38.0" height="38.0" fill="#f6f6f6"/>
<text x="139.2" y="1330.5" font-size="26.5" textLength="15.7" lengthAdjust="spacingAndGlyphs" fill="#1a8a45">T</text>
<rect x="181.0" y="1348.6" width="38.0" height="38.0" fill="#f6f6f6"/>
<rect x="230.0" y="1348.6" width="38.0" height="38.0" fill="#f6f6f6"/>
<rect x="279.0" y="1348.6" width="38.0" height="38.0" fill="#f6f6f6"/>
<rect x="328.0" y="1348.6" width="38.0" height="38.0" fill="#0a6db7"/>
<text x="137.6" y="1377.1" font-size="26.5" textLength="18.6" lengthAdjust="spacingAndGlyphs" fill="#2a5caa">C</text>
<rect x="181.0" y="1396.6" width="38.0" height="38.0" fill="#c20d23"/>
<rect x="230.0" y="1396.6" width="38.0" height="38.0" fill="#f6f6f6"/>
<rect x="279.0" y="1396.6" width="38.0" height="38.0" fill="#f6f6f6"/>
<rect x="328.0" y="1396.6" width="38.0" height="38.0" fill="#f6f6f6"/>
<text x="138.5" y="1425.1" font-size="26.5" textLength="17.1" lengthAdjust="spacingAndGlyphs" fill="#c1272d">A</text>
<rect x="181.0" y="1443.2" width="38.0" height="38.0" fill="#c20d23"/>
<rect x="230.0" y="1443.2" width="38.0" height="38.0" fill="#f6f6f6"/>
<rect x="279.0" y="1443.2" width="38.0" height="38.0" fill="#f6f6f6"/>
<rect x="328.0" y="1443.2" width="38.0" height="38.0" fill="#f6f6f6"/>
<text x="138.5" y="1471.7" font-size="26.5" textLength="17.1" lengthAdjust="spacingAndGlyphs" fill="#c1272d">A</text>
<rect x="181.0" y="1491.0" width="38.0" height="38.0" fill="#f6f6f6"/>
<rect x="230.0" y="1491.0" width="38.0" height="38.0" fill="#f6f6f6"/>
<rect x="279.0" y="1491.0" width="38.0" height="38.0" fill="#f6f6f6"/>
<rect x="328.0" y="1491.0" width="38.0" height="38.0" fill="#0a6db7"/>
<text x="137.6" y="1519.5" font-size="26.5" textLength="18.6" lengthAdjust="spacingAndGlyphs" fill="#2a5caa">C</text>
<rect x="181.0" y="1585.0" width="38.0" height="38.0" fill="#f6f6f6"/>
<rect x="230.0" y="1585.0" width="38.0" height="38.0" fill="#00913f"/>
<rect x="279.0" y="1585.0" width="38.0" height="38.0" fill="#f6f6f6"/>
<rect x="328.0" y="1585.0" width="38.0" height="38.0" fill="#f6f6f6"/>
<text x="139.2" y="1613.5" font-size="26.5" textLength="15.7" lengthAdjust="spacingAndGlyphs" fill="#1a8a45">T</text>
<rect x="181.0" y="1633.0" width="38.0" height="38.0" fill="#f6f6f6"/>
<rect x="230.0" y="1633.0" width="38.0" height="38.0" fill="#f6f6f6"/>
<rect x="279.0" y="1633.0" width="38.0" height="38.0" fill="#f6f6f6"/>
<rect x="328.0" y="1633.0" width="38.0" height="38.0" fill="#0a6db7"/>
<text x="137.6" y="1661.5" font-size="26.5" textLength="18.6" lengthAdjust="spacingAndGlyphs" fill="#2a5caa">C</text>
<rect x="181.0" y="1680.0" width="38.0" height="38.0" fill="#f6f6f6"/>
<rect x="230.0" y="1680.0" width="38.0" height="38.0" fill="#f6f6f6"/>
<rect x="279.0" y="1680.0" width="38.0" height="38.0" fill="#efab25"/>
<rect x="328.0" y="1680.0" width="38.0" height="38.0" fill="#f6f6f6"/>
<text x="137.4" y="1708.5" font-size="26.5" textLength="20.0" lengthAdjust="spacingAndGlyphs" fill="#f0a71f">G</text>
<text x="196.9" y="1332.0" font-size="24" textLength="15.3" lengthAdjust="spacingAndGlyphs">0</text>
<text x="241.7" y="1332.0" font-size="24" textLength="14.7" lengthAdjust="spacingAndGlyphs">1</text>
<circle cx="147.0" cy="1544.5" r="2.2" fill="#111"/>
<circle cx="147.0" cy="1554.5" r="2.2" fill="#111"/>
<circle cx="147.0" cy="1564.5" r="2.2" fill="#111"/>
<circle cx="273.3" cy="1546.0" r="2.2" fill="#111"/>
<circle cx="273.3" cy="1556.0" r="2.2" fill="#111"/>
<circle cx="273.3" cy="1566.0" r="2.2" fill="#111"/>
<text x="314.0" y="1468.0" font-size="26.5" textLength="175.4" lengthAdjust="spacingAndGlyphs" transform="rotate(-90 401.5 1468.0)">Weight matrix</text>
<text x="165.5" y="1763.0" font-size="26.5" textLength="233.5" lengthAdjust="spacingAndGlyphs">One-hot encoding</text>
<text x="458.8" y="676.0" font-size="38" textLength="25.3" lengthAdjust="spacingAndGlyphs" font-weight="bold" stroke="#000" stroke-width="1.2">e</text>
<text x="842.9" y="698.0" font-size="27" textLength="299.6" lengthAdjust="spacingAndGlyphs" font-weight="bold" stroke="#000" stroke-width="0.9">Deep learning model</text>
<text x="840.9" y="1311.0" font-size="27" textLength="322.7" lengthAdjust="spacingAndGlyphs" font-weight="bold" stroke="#000" stroke-width="0.9">Motif discovery model</text>
<rect x="506.0" y="718.5" width="957.3" height="539.0" fill="#f6f6f6" stroke="#d9d9d9" stroke-width="2" rx="24"/>
<rect x="505.5" y="1327.0" width="957.8" height="451.0" fill="#f6f6f6" stroke="#d9d9d9" stroke-width="2" rx="24"/>
<path d="M552.7 1257.5H569.3V1283.5L585.0 1274.5L561.0 1331.0L537.0 1274.5L552.7 1283.5Z" fill="#c6c6c6"/>
<line x1="384.5" y1="1274.0" x2="537.5" y2="1154.0" stroke="#111" stroke-width="2.4" stroke-dasharray="21 16"/>
<line x1="392.0" y1="1699.0" x2="537.0" y2="1200.0" stroke="#111" stroke-width="2.4" stroke-dasharray="21 16"/>
<text x="524.5" y="758.6" font-size="26.5" textLength="248.4" lengthAdjust="spacingAndGlyphs">Convolutional layer</text>
<text x="764.3" y="861.0" font-size="26.5" textLength="167.6" lengthAdjust="spacingAndGlyphs">Pooling layer</text>
<text x="937.2" y="758.6" font-size="26.5" textLength="275.1" lengthAdjust="spacingAndGlyphs">Fully connected layer</text>
<text x="1095.6" y="963.7" font-size="26.5" textLength="132.4" lengthAdjust="spacingAndGlyphs">Prediction</text>
<text x="1303.4" y="965.6" font-size="26.5" textLength="105.6" lengthAdjust="spacingAndGlyphs">Nucleus</text>
<text x="1308.0" y="1050.0" font-size="26.5" textLength="138.8" lengthAdjust="spacingAndGlyphs">Cytoplasm</text>
<g opacity="0.92"><rect x="646.4" y="786.0" width="43.6" height="205.4" fill="#dce7f3" stroke="#c2c2c2" stroke-width="2.6"/><line x1="646.4" y1="827.1" x2="690.0" y2="827.1" stroke="#c2c2c2" stroke-width="2.6"/><line x1="646.4" y1="868.2" x2="690.0" y2="868.2" stroke="#c2c2c2" stroke-width="2.6"/><line x1="646.4" y1="909.2" x2="690.0" y2="909.2" stroke="#c2c2c2" stroke-width="2.6"/><line x1="646.4" y1="950.3" x2="690.0" y2="950.3" stroke="#c2c2c2" stroke-width="2.6"/></g>
<g opacity="0.7"><rect x="621.0" y="799.7" width="43.6" height="205.0" fill="#9dc4e8" stroke="#5e5e5e" stroke-width="2.6"/></g>
<g opacity="0.85"><rect x="563.5" y="818.5" width="43.6" height="205.5" fill="#b0cdeb" stroke="#6a6a6a" stroke-width="2.6"/></g>
<g opacity="0.86"><rect x="538.0" y="829.5" width="43.6" height="206.0" fill="#80b2df" stroke="#2e2e2e" stroke-width="2.8"/><line x1="538.0" y1="870.7" x2="581.6" y2="870.7" stroke="#2e2e2e" stroke-width="2.8"/><line x1="538.0" y1="911.9" x2="581.6" y2="911.9" stroke="#2e2e2e" stroke-width="2.8"/><line x1="538.0" y1="953.1" x2="581.6" y2="953.1" stroke="#2e2e2e" stroke-width="2.8"/><line x1="538.0" y1="994.3" x2="581.6" y2="994.3" stroke="#2e2e2e" stroke-width="2.8"/></g>
<g opacity="0.92"><rect x="646.4" y="1028.0" width="43.6" height="163.8" fill="#dce7f3" stroke="#c2c2c2" stroke-width="2.6"/><line x1="646.4" y1="1069.0" x2="690.0" y2="1069.0" stroke="#c2c2c2" stroke-width="2.6"/><line x1="646.4" y1="1109.9" x2="690.0" y2="1109.9" stroke="#c2c2c2" stroke-width="2.6"/><line x1="646.4" y1="1150.8" x2="690.0" y2="1150.8" stroke="#c2c2c2" stroke-width="2.6"/></g>
<g opacity="0.7"><rect x="621.0" y="1042.0" width="43.6" height="163.0" fill="#9dc4e8" stroke="#5e5e5e" stroke-width="2.6"/></g>
<g opacity="0.85"><rect x="563.5" y="1060.7" width="43.6" height="163.3" fill="#b0cdeb" stroke="#6a6a6a" stroke-width="2.6"/></g>
<g opacity="0.86"><rect x="538.0" y="1073.0" width="43.6" height="164.0" fill="#80b2df" stroke="#2e2e2e" stroke-width="2.8"/><line x1="538.0" y1="1114.0" x2="581.6" y2="1114.0" stroke="#2e2e2e" stroke-width="2.8"/><line x1="538.0" y1="1155.0" x2="581.6" y2="1155.0" stroke="#2e2e2e" stroke-width="2.8"/><line x1="538.0" y1="1196.0" x2="581.6" y2="1196.0" stroke="#2e2e2e" stroke-width="2.8"/></g>
<g opacity="0.92"><rect x="864.9" y="887.0" width="43.6" height="205.0" fill="#cfdde9" stroke="#adadad" stroke-width="2.6"/><line x1="864.9" y1="928.0" x2="908.5" y2="928.0" stroke="#adadad" stroke-width="2.6"/><line x1="864.9" y1="969.0" x2="908.5" y2="969.0" stroke="#adadad" stroke-width="2.6"/><line x1="864.9" y1="1010.0" x2="908.5" y2="1010.0" stroke="#adadad" stroke-width="2.6"/><line x1="864.9" y1="1051.0" x2="908.5" y2="1051.0" stroke="#adadad" stroke-width="2.6"/></g>
<g opacity="0.72"><rect x="840.0" y="900.6" width="43.6" height="205.7" fill="#7da6cc" stroke="#5e5e5e" stroke-width="2.6"/></g>
<g opacity="0.88"><rect x="782.0" y="919.8" width="43.6" height="205.2" fill="#8fb2d4" stroke="#6a6a6a" stroke-width="2.6"/></g>
<g opacity="0.9"><rect x="757.0" y="933.0" width="43.6" height="206.0" fill="#5089bb" stroke="#222" stroke-width="2.8"/><line x1="757.0" y1="974.2" x2="800.6" y2="974.2" stroke="#222" stroke-width="2.8"/><line x1="757.0" y1="1015.4" x2="800.6" y2="1015.4" stroke="#222" stroke-width="2.8"/><line x1="757.0" y1="1056.6" x2="800.6" y2="1056.6" stroke="#222" stroke-width="2.8"/><line x1="757.0" y1="1097.8" x2="800.6" y2="1097.8" stroke="#222" stroke-width="2.8"/></g>
<rect x="539.8" y="914.0" width="40.0" height="120.5" fill="none" stroke="#000" stroke-width="5.6"/>
<rect x="539.8" y="1156.0" width="40.0" height="40.0" fill="none" stroke="#000" stroke-width="5.6"/>
<rect x="758.8" y="1017.0" width="40.0" height="39.5" fill="none" stroke="#000" stroke-width="5.6"/>
<circle cx="600.0" cy="802.0" r="1.5" fill="#6e6e6e"/>
<circle cx="610.6" cy="795.5" r="1.5" fill="#6e6e6e"/>
<circle cx="818.6" cy="905.0" r="1.5" fill="#6e6e6e"/>
<circle cx="829.5" cy="898.5" r="1.5" fill="#6e6e6e"/>
<circle cx="560.0" cy="1043.0" r="1.5" fill="#6e6e6e"/>
<circle cx="560.0" cy="1058.0" r="1.5" fill="#6e6e6e"/>
<circle cx="586.0" cy="1047.0" r="1.5" fill="#6e6e6e"/>
<circle cx="644.0" cy="1015.0" r="1.5" fill="#6e6e6e"/>
<circle cx="667.5" cy="1013.0" r="1.5" fill="#6e6e6e"/>
<circle cx="667.5" cy="998.0" r="1.5" fill="#6e6e6e"/>
<circle cx="643.0" cy="1027.0" r="1.5" fill="#6e6e6e"/>
<line x1="581.6" y1="913.0" x2="757.0" y2="1014.8" stroke="#111" stroke-width="2.4" stroke-dasharray="19 18" stroke-dashoffset="2.7"/>
<line x1="581.6" y1="1035.5" x2="757.0" y2="1056.0" stroke="#111" stroke-width="2.4" stroke-dasharray="19 18" stroke-dashoffset="2.7"/>
<line x1="908.3" y1="887.0" x2="1019.7" y2="770.0" stroke="#111" stroke-width="2.4" stroke-dasharray="21 16"/>
<line x1="908.3" y1="1092.0" x2="1019.7" y2="1216.0" stroke="#111" stroke-width="2.4" stroke-dasharray="21 16"/>
<g><rect x="1020.6" y="769.5" width="43.0" height="204.0" fill="#0a6bb5" stroke="#444" stroke-width="2.2"/><line x1="1020.6" y1="810.3" x2="1063.6" y2="810.3" stroke="#444" stroke-width="2.2"/><line x1="1020.6" y1="851.1" x2="1063.6" y2="851.1" stroke="#444" stroke-width="2.2"/><line x1="1020.6" y1="891.9" x2="1063.6" y2="891.9" stroke="#444" stroke-width="2.2"/><line x1="1020.6" y1="932.7" x2="1063.6" y2="932.7" stroke="#444" stroke-width="2.2"/></g>
<g><rect x="1020.6" y="1013.0" width="43.0" height="205.0" fill="#0a6bb5" stroke="#111" stroke-width="2.2"/><line x1="1020.6" y1="1054.0" x2="1063.6" y2="1054.0" stroke="#111" stroke-width="2.2"/><line x1="1020.6" y1="1095.0" x2="1063.6" y2="1095.0" stroke="#111" stroke-width="2.2"/><line x1="1020.6" y1="1136.0" x2="1063.6" y2="1136.0" stroke="#111" stroke-width="2.2"/><line x1="1020.6" y1="1177.0" x2="1063.6" y2="1177.0" stroke="#111" stroke-width="2.2"/></g>
<circle cx="1042.2" cy="982.5" r="1.3" fill="#111"/><circle cx="1042.2" cy="997.5" r="1.3" fill="#111"/>
<path d="M1108 990H1153L1141 975L1199 998.7L1141 1022.8L1153 1007.3H1108Z" fill="#c8c8c8"/>
<rect x="1251.5" y="940.7" width="43.0" height="42.0" fill="#0a6bb5" stroke="#3a3a3a" stroke-width="2.6"/>
<rect x="1251.5" y="1022.3" width="43.0" height="42.0" fill="#0a6bb5" stroke="#3a3a3a" stroke-width="2.6"/>
<text x="1260.7" y="973.0" font-size="24" textLength="14.7" lengthAdjust="spacingAndGlyphs" fill="#fff">1</text>
<text x="1264.8" y="1055.0" font-size="24" textLength="15.3" lengthAdjust="spacingAndGlyphs" fill="#fff">0</text>
<text x="539.7" y="1384.0" font-size="26.5" textLength="324.6" lengthAdjust="spacingAndGlyphs">Position weight 2D matrix</text>
<text x="941.5" y="1386.7" font-size="26.5" textLength="222.4" lengthAdjust="spacingAndGlyphs">Activity 2D matrix</text>
<text x="1201.2" y="1386.7" font-size="26.5" textLength="254.6" lengthAdjust="spacingAndGlyphs">Prediction 1D matrix</text>
<line x1="872.0" y1="1358.7" x2="872.0" y2="1741.0" stroke="#111" stroke-width="2" stroke-dasharray="17 19.5"/>
<text x="592.0" y="1548.8" font-size="26.5" textLength="216.8" lengthAdjust="spacingAndGlyphs">Weight 2D matrix</text>
<text transform="translate(547.20 1466.78) scale(0.360 0.021)" font-size="100" font-weight="bold" fill="#2b3f9e">C</text>
<text transform="translate(547.20 1465.30) scale(0.426 0.195)" font-size="100" font-weight="bold" fill="#157f3d">T</text>
<text transform="translate(547.20 1451.90) scale(0.360 0.195)" font-size="100" font-weight="bold" fill="#c1121f">A</text>
<text transform="translate(586.40 1466.80) scale(0.426 0.017)" font-size="100" font-weight="bold" fill="#157f3d">T</text>
<text transform="translate(586.40 1465.26) scale(0.334 0.339)" font-size="100" font-weight="bold" fill="#f0a818">G</text>
<text transform="translate(625.60 1466.80) scale(0.360 0.022)" font-size="100" font-weight="bold" fill="#c1121f">A</text>
<text transform="translate(625.60 1465.28) scale(0.360 0.021)" font-size="100" font-weight="bold" fill="#2b3f9e">C</text>
<text transform="translate(625.60 1463.80) scale(0.426 0.392)" font-size="100" font-weight="bold" fill="#157f3d">T</text>
<text transform="translate(664.80 1466.77) scale(0.360 0.028)" font-size="100" font-weight="bold" fill="#2b3f9e">C</text>
<text transform="translate(664.80 1464.77) scale(0.334 0.031)" font-size="100" font-weight="bold" fill="#f0a818">G</text>
<text transform="translate(664.80 1462.60) scale(0.360 0.073)" font-size="100" font-weight="bold" fill="#c1121f">A</text>
<text transform="translate(664.80 1457.60) scale(0.426 0.451)" font-size="100" font-weight="bold" fill="#157f3d">T</text>
<text transform="translate(704.00 1466.74) scale(0.360 0.056)" font-size="100" font-weight="bold" fill="#2b3f9e">C</text>
<text transform="translate(704.00 1462.74) scale(0.334 0.064)" font-size="100" font-weight="bold" fill="#f0a818">G</text>
<text transform="translate(704.00 1458.30) scale(0.360 0.315)" font-size="100" font-weight="bold" fill="#c1121f">A</text>
<text transform="translate(743.20 1466.76) scale(0.334 0.035)" font-size="100" font-weight="bold" fill="#f0a818">G</text>
<text transform="translate(743.20 1464.22) scale(0.360 0.082)" font-size="100" font-weight="bold" fill="#2b3f9e">C</text>
<text transform="translate(743.20 1458.50) scale(0.360 0.148)" font-size="100" font-weight="bold" fill="#c1121f">A</text>
<text transform="translate(782.40 1466.80) scale(0.360 0.029)" font-size="100" font-weight="bold" fill="#c1121f">A</text>
<text transform="translate(782.40 1464.80) scale(0.426 0.102)" font-size="100" font-weight="bold" fill="#157f3d">T</text>
<text transform="translate(782.40 1457.67) scale(0.334 0.127)" font-size="100" font-weight="bold" fill="#f0a818">G</text>
<text transform="translate(821.60 1466.80) scale(0.426 0.044)" font-size="100" font-weight="bold" fill="#157f3d">T</text>
<text transform="translate(821.60 1463.75) scale(0.334 0.045)" font-size="100" font-weight="bold" fill="#f0a818">G</text>
<text transform="translate(821.60 1460.60) scale(0.360 0.078)" font-size="100" font-weight="bold" fill="#c1121f">A</text>
<rect x="548.5" y="1560.0" width="30.3" height="30.4" fill="#ab7a07"/>
<rect x="587.8" y="1560.0" width="30.3" height="30.4" fill="#faf0bf"/>
<rect x="627.0" y="1560.0" width="30.3" height="30.4" fill="#faf0bf"/>
<rect x="666.4" y="1560.0" width="30.3" height="30.4" fill="#faf0bf"/>
<rect x="705.7" y="1560.0" width="30.3" height="30.4" fill="#ab7a07"/>
<rect x="745.0" y="1560.0" width="30.3" height="30.4" fill="#ab7a07"/>
<rect x="784.3" y="1560.0" width="30.3" height="30.4" fill="#faf0bf"/>
<rect x="823.4" y="1560.0" width="30.3" height="30.4" fill="#ab7a07"/>
<rect x="548.5" y="1597.7" width="30.3" height="30.4" fill="#faf0bf"/>
<rect x="587.8" y="1597.7" width="30.3" height="30.4" fill="#faf0bf"/>
<rect x="627.0" y="1597.7" width="30.3" height="30.4" fill="#ab7a07"/>
<rect x="666.4" y="1597.7" width="30.3" height="30.4" fill="#ab7a07"/>
<rect x="705.7" y="1597.7" width="30.3" height="30.4" fill="#faf0bf"/>
<rect x="745.0" y="1597.7" width="30.3" height="30.4" fill="#faf0bf"/>
<rect x="784.3" y="1597.7" width="30.3" height="30.4" fill="#faf0bf"/>
<rect x="823.4" y="1597.7" width="30.3" height="30.4" fill="#faf0bf"/>
<rect x="548.5" y="1635.7" width="30.3" height="30.4" fill="#faf0bf"/>
<rect x="587.8" y="1635.7" width="30.3" height="30.4" fill="#ab7a07"/>
<rect x="627.0" y="1635.7" width="30.3" height="30.4" fill="#faf0bf"/>
<rect x="666.4" y="1635.7" width="30.3" height="30.4" fill="#faf0bf"/>
<rect x="705.7" y="1635.7" width="30.3" height="30.4" fill="#faf0bf"/>
<rect x="745.0" y="1635.7" width="30.3" height="30.4" fill="#faf0bf"/>
<rect x="784.3" y="1635.7" width="30.3" height="30.4" fill="#ab7a07"/>
<rect x="823.4" y="1635.7" width="30.3" height="30.4" fill="#faf0bf"/>
<rect x="548.5" y="1673.4" width="30.3" height="30.4" fill="#faf0bf"/>
<rect x="587.8" y="1673.4" width="30.3" height="30.4" fill="#faf0bf"/>
<rect x="627.0" y="1673.4" width="30.3" height="30.4" fill="#faf0bf"/>
<rect x="666.4" y="1673.4" width="30.3" height="30.4" fill="#faf0bf"/>
<rect x="705.7" y="1673.4" width="30.3" height="30.4" fill="#faf0bf"/>
<rect x="745.0" y="1673.4" width="30.3" height="30.4" fill="#faf0bf"/>
<rect x="784.3" y="1673.4" width="30.3" height="30.4" fill="#faf0bf"/>
<rect x="823.4" y="1673.4" width="30.3" height="30.4" fill="#faf0bf"/>
<text x="513.5" y="1584.6" font-size="26.5" textLength="17.1" lengthAdjust="spacingAndGlyphs">A</text>
<text x="514.2" y="1621.7" font-size="26.5" textLength="15.7" lengthAdjust="spacingAndGlyphs">T</text>
<text x="512.4" y="1660.0" font-size="26.5" textLength="20.0" lengthAdjust="spacingAndGlyphs">G</text>
<text x="512.6" y="1698.0" font-size="26.5" textLength="18.6" lengthAdjust="spacingAndGlyphs">C</text>
<text x="558.2" y="1735.8" font-size="26.5" textLength="17.1" lengthAdjust="spacingAndGlyphs" fill="#c1272d">A</text>
<text x="591.3" y="1735.8" font-size="26.5" textLength="20.0" lengthAdjust="spacingAndGlyphs" fill="#f0a71f">G</text>
<text x="629.8" y="1735.8" font-size="26.5" textLength="15.7" lengthAdjust="spacingAndGlyphs" fill="#1a8a45">T</text>
<text x="672.0" y="1735.8" font-size="26.5" textLength="15.7" lengthAdjust="spacingAndGlyphs" fill="#1a8a45">T</text>
<text x="711.0" y="1735.8" font-size="26.5" textLength="17.1" lengthAdjust="spacingAndGlyphs" fill="#c1272d">A</text>
<text x="750.6" y="1735.8" font-size="26.5" textLength="17.1" lengthAdjust="spacingAndGlyphs" fill="#c1272d">A</text>
<text x="791.0" y="1735.8" font-size="26.5" textLength="20.0" lengthAdjust="spacingAndGlyphs" fill="#f0a71f">G</text>
<text x="833.0" y="1735.8" font-size="26.5" textLength="17.1" lengthAdjust="spacingAndGlyphs" fill="#c1272d">A</text>
<rect x="945.5" y="1416.1" width="29.6" height="29.4" fill="#5b92c0" stroke="#4a4a4a" stroke-width="1.6"/>
<rect x="982.2" y="1416.1" width="29.6" height="29.4" fill="#5b92c0" stroke="#4a4a4a" stroke-width="1.6"/>
<rect x="1018.8" y="1416.1" width="29.6" height="29.4" fill="#5b92c0" stroke="#4a4a4a" stroke-width="1.6"/>
<rect x="1055.4" y="1416.1" width="29.6" height="29.4" fill="#5b92c0" stroke="#4a4a4a" stroke-width="1.6"/>
<rect x="1091.8" y="1416.1" width="29.6" height="29.4" fill="#5b92c0" stroke="#4a4a4a" stroke-width="1.6"/>
<rect x="1128.5" y="1416.1" width="29.6" height="29.4" fill="#5b92c0" stroke="#4a4a4a" stroke-width="1.6"/>
<rect x="1164.6" y="1416.1" width="29.6" height="29.4" fill="#5b92c0" stroke="#4a4a4a" stroke-width="1.6"/>
<rect x="945.5" y="1453.1" width="29.6" height="29.4" fill="#5b92c0" stroke="#4a4a4a" stroke-width="1.6"/>
<rect x="982.2" y="1453.1" width="29.6" height="29.4" fill="#5b92c0" stroke="#4a4a4a" stroke-width="1.6"/>
<rect x="1018.8" y="1453.1" width="29.6" height="29.4" fill="#5b92c0" stroke="#4a4a4a" stroke-width="1.6"/>
<rect x="1055.4" y="1453.1" width="29.6" height="29.4" fill="#5b92c0" stroke="#4a4a4a" stroke-width="1.6"/>
<rect x="1091.8" y="1453.1" width="29.6" height="29.4" fill="#5b92c0" stroke="#4a4a4a" stroke-width="1.6"/>
<rect x="1128.5" y="1453.1" width="29.6" height="29.4" fill="#5b92c0" stroke="#4a4a4a" stroke-width="1.6"/>
<rect x="1164.6" y="1453.1" width="29.6" height="29.4" fill="#5b92c0" stroke="#4a4a4a" stroke-width="1.6"/>
<rect x="945.5" y="1490.5" width="29.6" height="29.4" fill="#5b92c0" stroke="#4a4a4a" stroke-width="1.6"/>
<rect x="982.2" y="1490.5" width="29.6" height="29.4" fill="#5b92c0" stroke="#4a4a4a" stroke-width="1.6"/>
<rect x="1018.8" y="1490.5" width="29.6" height="29.4" fill="#5b92c0" stroke="#4a4a4a" stroke-width="1.6"/>
<rect x="1055.4" y="1490.5" width="29.6" height="29.4" fill="#5b92c0" stroke="#4a4a4a" stroke-width="1.6"/>
<rect x="1091.8" y="1490.5" width="29.6" height="29.4" fill="#5b92c0" stroke="#4a4a4a" stroke-width="1.6"/>
<rect x="1128.5" y="1490.5" width="29.6" height="29.4" fill="#5b92c0" stroke="#4a4a4a" stroke-width="1.6"/>
<rect x="1164.6" y="1490.5" width="29.6" height="29.4" fill="#5b92c0" stroke="#4a4a4a" stroke-width="1.6"/>
<rect x="945.5" y="1527.8" width="29.6" height="29.4" fill="#5b92c0" stroke="#4a4a4a" stroke-width="1.6"/>
<rect x="982.2" y="1527.8" width="29.6" height="29.4" fill="#5b92c0" stroke="#4a4a4a" stroke-width="1.6"/>
<rect x="1018.8" y="1527.8" width="29.6" height="29.4" fill="#5b92c0" stroke="#4a4a4a" stroke-width="1.6"/>
<rect x="1055.4" y="1527.8" width="29.6" height="29.4" fill="#5b92c0" stroke="#4a4a4a" stroke-width="1.6"/>
<rect x="1091.8" y="1527.8" width="29.6" height="29.4" fill="#5b92c0" stroke="#4a4a4a" stroke-width="1.6"/>
<rect x="1128.5" y="1527.8" width="29.6" height="29.4" fill="#5b92c0" stroke="#4a4a4a" stroke-width="1.6"/>
<rect x="1164.6" y="1527.8" width="29.6" height="29.4" fill="#5b92c0" stroke="#4a4a4a" stroke-width="1.6"/>
<text x="884.5" y="1440.0" font-size="21.5" textLength="53.9" lengthAdjust="spacingAndGlyphs">Seq 1</text>
<text x="881.4" y="1477.0" font-size="21.5" textLength="57.0" lengthAdjust="spacingAndGlyphs">Seq 2</text>
<circle cx="913.5" cy="1511.5" r="1.9" fill="#111"/>
<circle cx="1328.7" cy="1569.5" r="1.9" fill="#111"/>
<circle cx="1060.0" cy="1592.6" r="1.9" fill="#111"/>
<circle cx="913.5" cy="1521.0" r="1.9" fill="#111"/>
<circle cx="1328.7" cy="1579.0" r="1.9" fill="#111"/>
<circle cx="1070.0" cy="1592.6" r="1.9" fill="#111"/>
<circle cx="913.5" cy="1530.5" r="1.9" fill="#111"/>
<circle cx="1328.7" cy="1588.5" r="1.9" fill="#111"/>
<circle cx="1080.0" cy="1592.6" r="1.9" fill="#111"/>
<text x="927.8" y="1603.5" font-size="21.5" textLength="77.6" lengthAdjust="spacingAndGlyphs" transform="rotate(-90 967.0 1603.5)">Kernel 1</text>
<text x="968.3" y="1605.0" font-size="21.5" textLength="80.7" lengthAdjust="spacingAndGlyphs" transform="rotate(-90 1009.0 1605.0)">Kernel 2</text>
<rect x="1315.0" y="1415.4" width="29.6" height="29.6" fill="#0a6bb5" stroke="#444" stroke-width="3.6"/>
<text x="1323.9" y="1436.0" font-size="20.5" textLength="13.1" lengthAdjust="spacingAndGlyphs" fill="#fff">0</text>
<rect x="1315.0" y="1452.4" width="29.6" height="29.6" fill="#0a6bb5" stroke="#444" stroke-width="3.6"/>
<text x="1321.5" y="1473.0" font-size="20.5" textLength="13.1" lengthAdjust="spacingAndGlyphs" fill="#fff">1</text>
<rect x="1315.0" y="1489.8" width="29.6" height="29.6" fill="#0a6bb5" stroke="#444" stroke-width="3.6"/>
<text x="1321.5" y="1510.4" font-size="20.5" textLength="13.1" lengthAdjust="spacingAndGlyphs" fill="#fff">1</text>
<rect x="1315.0" y="1527.2" width="29.6" height="29.6" fill="#0a6bb5" stroke="#444" stroke-width="3.6"/>
<text x="1323.9" y="1547.8" font-size="20.5" textLength="13.1" lengthAdjust="spacingAndGlyphs" fill="#fff">0</text>
<line x1="1048.5" y1="1626.4" x2="1393.0" y2="1626.4" stroke="#000" stroke-width="4"/>
<path d="M1194.1 1637.0H1210.9V1648.5L1226.5 1639.5L1202.5 1696.6L1178.5 1639.5L1194.1 1648.5Z" fill="#c6c6c6"/>
<text x="1016.5" y="1735.6" font-size="26.5" textLength="375.1" lengthAdjust="spacingAndGlyphs">Principal component analysis</text>
<text x="1549.7" y="677.0" font-size="38" textLength="12.5" lengthAdjust="spacingAndGlyphs" font-weight="bold" stroke="#000" stroke-width="1.2">f</text>
<line x1="1674.3" y1="676.4" x2="1674.3" y2="1098.4" stroke="#222" stroke-width="1.3"/>
<line x1="1673.7" y1="1097.8" x2="2120.0" y2="1097.8" stroke="#222" stroke-width="1.3"/>
<line x1="1664.0" y1="729.3" x2="1674.3" y2="729.3" stroke="#222" stroke-width="1.3"/>
<text x="1600.9" y="737.3" font-size="22.5" textLength="49.0" lengthAdjust="spacingAndGlyphs">0.90</text>
<line x1="1664.0" y1="844.7" x2="1674.3" y2="844.7" stroke="#222" stroke-width="1.3"/>
<text x="1600.9" y="852.7" font-size="22.5" textLength="49.0" lengthAdjust="spacingAndGlyphs">0.60</text>
<line x1="1664.0" y1="960.8" x2="1674.3" y2="960.8" stroke="#222" stroke-width="1.3"/>
<text x="1600.9" y="968.8" font-size="22.5" textLength="49.0" lengthAdjust="spacingAndGlyphs">0.30</text>
<line x1="1664.0" y1="1076.9" x2="1674.3" y2="1076.9" stroke="#222" stroke-width="1.3"/>
<text x="1635.9" y="1084.9" font-size="22.5" textLength="14.0" lengthAdjust="spacingAndGlyphs">0</text>
<line x1="1695.2" y1="1097.8" x2="1695.2" y2="1107.3" stroke="#222" stroke-width="1.3"/>
<text x="1688.1" y="1140.0" font-size="22.5" textLength="14.0" lengthAdjust="spacingAndGlyphs">0</text>
<line x1="1808.3" y1="1097.8" x2="1808.3" y2="1107.3" stroke="#222" stroke-width="1.3"/>
<text x="1783.7" y="1140.0" font-size="22.5" textLength="49.0" lengthAdjust="spacingAndGlyphs">0.30</text>
<line x1="1921.7" y1="1097.8" x2="1921.7" y2="1107.3" stroke="#222" stroke-width="1.3"/>
<text x="1897.1" y="1140.0" font-size="22.5" textLength="49.0" lengthAdjust="spacingAndGlyphs">0.60</text>
<line x1="2035.0" y1="1097.8" x2="2035.0" y2="1107.3" stroke="#222" stroke-width="1.3"/>
<text x="2010.4" y="1140.0" font-size="22.5" textLength="49.0" lengthAdjust="spacingAndGlyphs">0.90</text>
<text x="1774.2" y="1183.6" font-size="26.5" textLength="231.5" lengthAdjust="spacingAndGlyphs">False positive rate</text>
<text x="1461.4" y="882.0" font-size="26.5" textLength="221.0" lengthAdjust="spacingAndGlyphs" transform="rotate(-90 1571.5 882.0)">True positive rate</text>
<text x="1898.0" y="673.7" font-size="26.5" textLength="142.5" lengthAdjust="spacingAndGlyphs" fill="#c8102e">AUC = 0.95</text>
<path d="M1695.2 1076.9L1695.2 1010.3L1700.9 1010.3L1700.9 889.1L1706.3 889.1L1706.3 792.9L1711.7 792.9L1711.7 762.3L1717.1 762.3L1717.1 731.3L1733.5 731.3L1733.5 726.6L1766.5 726.6L1766.5 721.5L1777.6 721.5L1777.6 716.5L1815.7 716.5L1815.7 711.4L1832.1 711.4L1832.1 706.4L1859.4 706.4L1859.4 701.3L1875.9 701.3L1875.9 696.3L1892.4 696.3L1892.4 691.6L2072.1 691.6" fill="none" stroke="#7f1a20" stroke-width="6.6" stroke-linejoin="round"/>
<line x1="1674.3" y1="1097.8" x2="2090.6" y2="671.1" stroke="#111" stroke-width="2.8" stroke-dasharray="21 15.5" stroke-dashoffset="-3"/>
<text x="1552.8" y="1258.0" font-size="38" textLength="28.2" lengthAdjust="spacingAndGlyphs" font-weight="bold" stroke="#000" stroke-width="1.2">g</text>
<line x1="1676.9" y1="1238.5" x2="1676.9" y2="1668.4" stroke="#555" stroke-width="1.5"/>
<line x1="1676.2" y1="1667.7" x2="2128.0" y2="1667.7" stroke="#555" stroke-width="1.5"/>
<line x1="1666.8" y1="1320.3" x2="1676.9" y2="1320.3" stroke="#555" stroke-width="1.5"/>
<text x="1606.9" y="1327.1" font-size="22.5" textLength="49.0" lengthAdjust="spacingAndGlyphs">0.40</text>
<line x1="1666.8" y1="1442.0" x2="1676.9" y2="1442.0" stroke="#555" stroke-width="1.5"/>
<text x="1606.9" y="1448.8" font-size="22.5" textLength="49.0" lengthAdjust="spacingAndGlyphs">0.20</text>
<line x1="1666.8" y1="1563.7" x2="1676.9" y2="1563.7" stroke="#555" stroke-width="1.5"/>
<text x="1641.9" y="1570.5" font-size="22.5" textLength="14.0" lengthAdjust="spacingAndGlyphs">0</text>
<line x1="1681.0" y1="1667.7" x2="1681.0" y2="1678.0" stroke="#555" stroke-width="1.5"/>
<text x="1643.5" y="1710.0" font-size="22.5" textLength="72.7" lengthAdjust="spacingAndGlyphs">−15.00</text>
<line x1="1829.4" y1="1667.7" x2="1829.4" y2="1678.0" stroke="#555" stroke-width="1.5"/>
<text x="1791.4" y="1710.0" font-size="22.5" textLength="73.8" lengthAdjust="spacingAndGlyphs">−10.00</text>
<line x1="1977.5" y1="1667.7" x2="1977.5" y2="1678.0" stroke="#555" stroke-width="1.5"/>
<text x="1945.2" y="1710.0" font-size="22.5" textLength="62.4" lengthAdjust="spacingAndGlyphs">−5.00</text>
<text x="1875.1" y="1754.5" font-size="26.5" textLength="47.0" lengthAdjust="spacingAndGlyphs">PC1</text>
<text x="1549.3" y="1452.0" font-size="26.5" textLength="52.4" lengthAdjust="spacingAndGlyphs" transform="rotate(-90 1576.0 1452.0)">PC2</text>
<text x="1726.1" y="1807.3" font-size="26.5" textLength="390.3" lengthAdjust="spacingAndGlyphs">Pearson correlation coefficient</text>
<rect x="1506.0" y="1620.5" width="13.5" height="13.0" fill="#ee5a6f"/>
<text x="1529.2" y="1638.0" font-size="26.5" textLength="100.5" lengthAdjust="spacingAndGlyphs">Positive</text>
<rect x="1506.0" y="1661.0" width="13.5" height="13.0" fill="#b9b9b9"/>
<text x="1529.2" y="1678.3" font-size="26.5" textLength="114.7" lengthAdjust="spacingAndGlyphs">Negative</text>
<circle cx="1512" cy="1729" r="3.4" fill="#111"/>
<text x="1530.0" y="1737.0" font-size="26.5" textLength="77.3" lengthAdjust="spacingAndGlyphs">&lt;0.00</text>
<circle cx="1512" cy="1762.6" r="4.7" fill="#111"/>
<text x="1530.2" y="1771.3" font-size="26.5" textLength="61.4" lengthAdjust="spacingAndGlyphs">0.60</text>
<circle cx="1512" cy="1799.6" r="8" fill="#222"/>
<text x="1530.3" y="1808.0" font-size="26.5" textLength="59.3" lengthAdjust="spacingAndGlyphs">0.70</text>
<circle cx="1709.6" cy="1257.4" r="2.4" fill="#b9b9b9"/>
<circle cx="1706.2" cy="1377.2" r="3.4" fill="#b9b9b9"/>
<circle cx="1704.5" cy="1417.9" r="2.0" fill="#b9b9b9"/>
<circle cx="1701.8" cy="1492.0" r="2.7" fill="#b9b9b9"/>
<circle cx="1701.8" cy="1505.1" r="3.0" fill="#b9b9b9"/>
<circle cx="1700.5" cy="1540.1" r="2.7" fill="#b9b9b9"/>
<circle cx="1700.5" cy="1547.2" r="2.0" fill="#b9b9b9"/>
<circle cx="1699.5" cy="1573.8" r="2.4" fill="#b9b9b9"/>
<circle cx="1698.1" cy="1614.1" r="2.4" fill="#b9b9b9"/>
<circle cx="1697.4" cy="1628.3" r="3.0" fill="#b9b9b9"/>
<circle cx="1696.8" cy="1639.4" r="2.4" fill="#b9b9b9"/>
<circle cx="1696.4" cy="1648.5" r="3.0" fill="#b9b9b9"/>
<line x1="1984.9" y1="1475.8" x2="1894.1" y2="1332.8" stroke="#f8c4b6" stroke-width="3.9" stroke-dasharray="10 5.2"/>
<path d="M1886.6 1321.0L1905.3 1332.8L1894.1 1332.8L1889.3 1343.0Z" fill="#f8c4b6"/>
<line x1="2015.2" y1="1421.3" x2="1991.9" y2="1336.2" stroke="#f8c4b6" stroke-width="3.9" stroke-dasharray="10 5.2"/>
<path d="M1988.2 1322.7L2002.7 1339.5L1991.9 1336.2L1984.3 1344.5Z" fill="#f8c4b6"/>
<line x1="1955.3" y1="1526.3" x2="1855.4" y2="1433.2" stroke="#f8c4b6" stroke-width="3.9" stroke-dasharray="10 5.2"/>
<path d="M1845.2 1423.6L1866.3 1430.3L1855.4 1433.2L1853.3 1444.2Z" fill="#f8c4b6"/>
<line x1="1929.3" y1="1558.3" x2="1867.6" y2="1512.7" stroke="#f8c4b6" stroke-width="3.9" stroke-dasharray="10 5.2"/>
<path d="M1856.3 1504.4L1878.0 1508.6L1867.6 1512.7L1866.8 1523.9Z" fill="#f8c4b6"/>
<line x1="1914.2" y1="1568.4" x2="1845.5" y2="1581.5" stroke="#f8c4b6" stroke-width="3.9" stroke-dasharray="10 5.2"/>
<path d="M1831.7 1584.2L1849.6 1571.1L1845.5 1581.5L1853.2 1589.7Z" fill="#f8c4b6"/>
<line x1="2065.3" y1="1620.2" x2="1961.1" y2="1631.8" stroke="#f8c4b6" stroke-width="3.9" stroke-dasharray="10 5.2"/>
<path d="M1947.2 1633.3L1966.0 1621.7L1961.1 1631.8L1968.1 1640.6Z" fill="#f8c4b6"/>
<circle cx="2068.7" cy="1327.7" r="4.7" fill="#ee5b6f"/>
<circle cx="2090.9" cy="1411.2" r="8.8" fill="#ee5b6f"/>
<circle cx="2015.2" cy="1421.3" r="7.7" fill="#ee5b6f"/>
<circle cx="1987.6" cy="1479.5" r="8.8" fill="#ee5b6f"/>
<circle cx="2082.8" cy="1474.8" r="6.1" fill="#ee5b6f"/>
<circle cx="1955.3" cy="1526.3" r="9.4" fill="#ee5b6f"/>
<circle cx="1919.6" cy="1564.3" r="8.4" fill="#ee5b6f"/>
<circle cx="1939.8" cy="1563.7" r="7.4" fill="#ee5b6f"/>
<circle cx="2065.3" cy="1620.2" r="6.7" fill="#ee5b6f"/>
<circle cx="2095.3" cy="1613.5" r="8.4" fill="#ee5b6f"/>
<text x="1926.9" y="1312.6" font-size="26.5" textLength="90.9" lengthAdjust="spacingAndGlyphs">Editing</text>
<text x="1786.1" y="1432.7" font-size="26.5" textLength="30.7" lengthAdjust="spacingAndGlyphs">U1</text>
<text x="2036.2" y="1548.0" font-size="26.5" textLength="105.4" lengthAdjust="spacingAndGlyphs">Splicing</text>
<text x="1827.5" y="1651.8" font-size="26.5" textLength="105.4" lengthAdjust="spacingAndGlyphs">Splicing</text>
<text transform="translate(1756.47 1315.40) scale(0.178 0.029)" font-size="100" font-weight="bold" fill="#157f3d">T</text>
<text transform="translate(1756.47 1313.36) scale(0.140 0.035)" font-size="100" font-weight="bold" fill="#f0a818">G</text>
<text transform="translate(1756.47 1310.86) scale(0.151 0.035)" font-size="100" font-weight="bold" fill="#2b3f9e">C</text>
<text transform="translate(1756.47 1308.40) scale(0.151 0.087)" font-size="100" font-weight="bold" fill="#c1121f">A</text>
<text transform="translate(1768.31 1315.40) scale(0.178 0.029)" font-size="100" font-weight="bold" fill="#157f3d">T</text>
<text transform="translate(1768.31 1313.36) scale(0.140 0.035)" font-size="100" font-weight="bold" fill="#f0a818">G</text>
<text transform="translate(1768.31 1310.86) scale(0.151 0.035)" font-size="100" font-weight="bold" fill="#2b3f9e">C</text>
<text transform="translate(1768.31 1308.40) scale(0.151 0.291)" font-size="100" font-weight="bold" fill="#c1121f">A</text>
<text transform="translate(1780.15 1315.40) scale(0.178 0.029)" font-size="100" font-weight="bold" fill="#157f3d">T</text>
<text transform="translate(1780.15 1313.40) scale(0.151 0.044)" font-size="100" font-weight="bold" fill="#c1121f">A</text>
<text transform="translate(1780.15 1310.34) scale(0.140 0.056)" font-size="100" font-weight="bold" fill="#f0a818">G</text>
<text transform="translate(1791.99 1315.40) scale(0.151 0.044)" font-size="100" font-weight="bold" fill="#c1121f">A</text>
<text transform="translate(1791.99 1312.36) scale(0.140 0.042)" font-size="100" font-weight="bold" fill="#f0a818">G</text>
<text transform="translate(1791.99 1309.40) scale(0.178 0.218)" font-size="100" font-weight="bold" fill="#157f3d">T</text>
<text transform="translate(1803.83 1315.40) scale(0.178 0.756)" font-size="100" font-weight="bold" fill="#157f3d">T</text>
<text transform="translate(1815.67 1315.40) scale(0.178 0.036)" font-size="100" font-weight="bold" fill="#157f3d">T</text>
<text transform="translate(1815.67 1312.86) scale(0.140 0.042)" font-size="100" font-weight="bold" fill="#f0a818">G</text>
<text transform="translate(1815.67 1309.82) scale(0.151 0.078)" font-size="100" font-weight="bold" fill="#2b3f9e">C</text>
<text transform="translate(1827.51 1315.40) scale(0.151 0.044)" font-size="100" font-weight="bold" fill="#c1121f">A</text>
<text transform="translate(1827.51 1312.36) scale(0.151 0.042)" font-size="100" font-weight="bold" fill="#2b3f9e">C</text>
<text transform="translate(1827.51 1309.40) scale(0.178 0.087)" font-size="100" font-weight="bold" fill="#157f3d">T</text>
<text transform="translate(1839.35 1315.36) scale(0.140 0.042)" font-size="100" font-weight="bold" fill="#f0a818">G</text>
<text transform="translate(1839.35 1312.40) scale(0.151 0.058)" font-size="100" font-weight="bold" fill="#c1121f">A</text>
<text transform="translate(1839.35 1308.40) scale(0.178 0.262)" font-size="100" font-weight="bold" fill="#157f3d">T</text>
<text transform="translate(1851.19 1315.37) scale(0.140 0.028)" font-size="100" font-weight="bold" fill="#f0a818">G</text>
<text transform="translate(1851.19 1313.40) scale(0.151 0.073)" font-size="100" font-weight="bold" fill="#c1121f">A</text>
<text transform="translate(1851.19 1308.17) scale(0.151 0.226)" font-size="100" font-weight="bold" fill="#2b3f9e">C</text>
<text transform="translate(1863.03 1315.37) scale(0.140 0.028)" font-size="100" font-weight="bold" fill="#f0a818">G</text>
<text transform="translate(1863.03 1313.40) scale(0.178 0.044)" font-size="100" font-weight="bold" fill="#157f3d">T</text>
<text transform="translate(1863.03 1310.40) scale(0.151 0.087)" font-size="100" font-weight="bold" fill="#c1121f">A</text>
<text transform="translate(1874.87 1315.37) scale(0.151 0.028)" font-size="100" font-weight="bold" fill="#2b3f9e">C</text>
<text transform="translate(1874.87 1313.36) scale(0.140 0.042)" font-size="100" font-weight="bold" fill="#f0a818">G</text>
<text transform="translate(1874.87 1310.40) scale(0.178 0.116)" font-size="100" font-weight="bold" fill="#157f3d">T</text>
<text transform="translate(1903.25 1282.80) scale(0.142 0.044)" font-size="100" font-weight="bold" fill="#c1121f">A</text>
<text transform="translate(1903.25 1279.80) scale(0.168 0.044)" font-size="100" font-weight="bold" fill="#157f3d">T</text>
<text transform="translate(1903.25 1276.61) scale(0.132 0.194)" font-size="100" font-weight="bold" fill="#f0a818">G</text>
<text transform="translate(1914.43 1282.80) scale(0.168 0.044)" font-size="100" font-weight="bold" fill="#157f3d">T</text>
<text transform="translate(1914.43 1279.76) scale(0.142 0.042)" font-size="100" font-weight="bold" fill="#2b3f9e">C</text>
<text transform="translate(1914.43 1276.61) scale(0.132 0.194)" font-size="100" font-weight="bold" fill="#f0a818">G</text>
<text transform="translate(1925.61 1282.80) scale(0.142 0.044)" font-size="100" font-weight="bold" fill="#c1121f">A</text>
<text transform="translate(1925.61 1279.76) scale(0.142 0.042)" font-size="100" font-weight="bold" fill="#2b3f9e">C</text>
<text transform="translate(1925.61 1276.69) scale(0.142 0.113)" font-size="100" font-weight="bold" fill="#2b3f9e">C</text>
<text transform="translate(1936.79 1282.80) scale(0.142 0.029)" font-size="100" font-weight="bold" fill="#c1121f">A</text>
<text transform="translate(1947.97 1282.80) scale(0.168 0.044)" font-size="100" font-weight="bold" fill="#157f3d">T</text>
<text transform="translate(1947.97 1279.76) scale(0.142 0.042)" font-size="100" font-weight="bold" fill="#2b3f9e">C</text>
<text transform="translate(1947.97 1276.49) scale(0.132 0.305)" font-size="100" font-weight="bold" fill="#f0a818">G</text>
<text transform="translate(1959.15 1282.80) scale(0.168 0.044)" font-size="100" font-weight="bold" fill="#157f3d">T</text>
<text transform="translate(1959.15 1279.76) scale(0.132 0.042)" font-size="100" font-weight="bold" fill="#f0a818">G</text>
<text transform="translate(1959.15 1276.80) scale(0.142 0.116)" font-size="100" font-weight="bold" fill="#c1121f">A</text>
<text transform="translate(1970.33 1282.76) scale(0.142 0.042)" font-size="100" font-weight="bold" fill="#2b3f9e">C</text>
<text transform="translate(1970.33 1279.80) scale(0.142 0.044)" font-size="100" font-weight="bold" fill="#c1121f">A</text>
<text transform="translate(1970.33 1276.80) scale(0.168 0.182)" font-size="100" font-weight="bold" fill="#157f3d">T</text>
<text transform="translate(1981.51 1282.80) scale(0.142 0.044)" font-size="100" font-weight="bold" fill="#c1121f">A</text>
<text transform="translate(1981.51 1279.80) scale(0.168 0.044)" font-size="100" font-weight="bold" fill="#157f3d">T</text>
<text transform="translate(1981.51 1276.69) scale(0.132 0.106)" font-size="100" font-weight="bold" fill="#f0a818">G</text>
<text transform="translate(1992.69 1282.80) scale(0.142 0.044)" font-size="100" font-weight="bold" fill="#c1121f">A</text>
<text transform="translate(1992.69 1279.32) scale(0.132 0.480)" font-size="100" font-weight="bold" fill="#f0a818">G</text>
<text transform="translate(2003.87 1282.80) scale(0.168 0.044)" font-size="100" font-weight="bold" fill="#157f3d">T</text>
<text transform="translate(2003.87 1279.80) scale(0.142 0.044)" font-size="100" font-weight="bold" fill="#c1121f">A</text>
<text transform="translate(2003.87 1276.67) scale(0.142 0.127)" font-size="100" font-weight="bold" fill="#2b3f9e">C</text>
<text transform="translate(2015.05 1282.80) scale(0.168 0.044)" font-size="100" font-weight="bold" fill="#157f3d">T</text>
<text transform="translate(2015.05 1279.76) scale(0.142 0.042)" font-size="100" font-weight="bold" fill="#2b3f9e">C</text>
<text transform="translate(2015.05 1276.80) scale(0.142 0.218)" font-size="100" font-weight="bold" fill="#c1121f">A</text>
<text transform="translate(2036.48 1310.74) scale(0.152 0.064)" font-size="100" font-weight="bold" fill="#2b3f9e">C</text>
<text transform="translate(2036.48 1306.30) scale(0.179 0.374)" font-size="100" font-weight="bold" fill="#157f3d">T</text>
<text transform="translate(2048.38 1310.72) scale(0.152 0.085)" font-size="100" font-weight="bold" fill="#2b3f9e">C</text>
<text transform="translate(2048.38 1304.48) scale(0.141 0.322)" font-size="100" font-weight="bold" fill="#f0a818">G</text>
<text transform="translate(2060.28 1310.78) scale(0.141 0.021)" font-size="100" font-weight="bold" fill="#f0a818">G</text>
<text transform="translate(2060.28 1309.30) scale(0.152 0.022)" font-size="100" font-weight="bold" fill="#c1121f">A</text>
<text transform="translate(2072.18 1310.77) scale(0.141 0.028)" font-size="100" font-weight="bold" fill="#f0a818">G</text>
<text transform="translate(2072.18 1308.80) scale(0.179 0.073)" font-size="100" font-weight="bold" fill="#157f3d">T</text>
<text transform="translate(2072.18 1303.80) scale(0.152 0.116)" font-size="100" font-weight="bold" fill="#c1121f">A</text>
<text transform="translate(2084.08 1310.80) scale(0.179 0.029)" font-size="100" font-weight="bold" fill="#157f3d">T</text>
<text transform="translate(2084.08 1308.80) scale(0.152 0.073)" font-size="100" font-weight="bold" fill="#c1121f">A</text>
<text transform="translate(2084.08 1303.70) scale(0.152 0.099)" font-size="100" font-weight="bold" fill="#2b3f9e">C</text>
<text transform="translate(2095.98 1310.77) scale(0.141 0.028)" font-size="100" font-weight="bold" fill="#f0a818">G</text>
<text transform="translate(2095.98 1308.80) scale(0.152 0.073)" font-size="100" font-weight="bold" fill="#c1121f">A</text>
<text transform="translate(2095.98 1303.67) scale(0.152 0.134)" font-size="100" font-weight="bold" fill="#2b3f9e">C</text>
<text transform="translate(2107.88 1310.80) scale(0.152 0.029)" font-size="100" font-weight="bold" fill="#c1121f">A</text>
<text transform="translate(2107.88 1308.74) scale(0.152 0.056)" font-size="100" font-weight="bold" fill="#2b3f9e">C</text>
<text transform="translate(2107.88 1304.80) scale(0.179 0.051)" font-size="100" font-weight="bold" fill="#157f3d">T</text>
<text transform="translate(2119.78 1310.08) scale(0.152 0.720)" font-size="100" font-weight="bold" fill="#2b3f9e">C</text>
<text transform="translate(2131.68 1310.78) scale(0.141 0.021)" font-size="100" font-weight="bold" fill="#f0a818">G</text>
<text transform="translate(2131.68 1309.30) scale(0.179 0.029)" font-size="100" font-weight="bold" fill="#157f3d">T</text>
<text transform="translate(2131.68 1307.30) scale(0.152 0.051)" font-size="100" font-weight="bold" fill="#c1121f">A</text>
<text transform="translate(2143.58 1310.76) scale(0.152 0.042)" font-size="100" font-weight="bold" fill="#2b3f9e">C</text>
<text transform="translate(2143.58 1307.80) scale(0.179 0.044)" font-size="100" font-weight="bold" fill="#157f3d">T</text>
<text transform="translate(2143.58 1304.69) scale(0.141 0.113)" font-size="100" font-weight="bold" fill="#f0a818">G</text>
<text transform="translate(2155.48 1310.80) scale(0.152 0.058)" font-size="100" font-weight="bold" fill="#c1121f">A</text>
<text transform="translate(2155.48 1306.80) scale(0.179 0.276)" font-size="100" font-weight="bold" fill="#157f3d">T</text>
<text transform="translate(1734.84 1404.10) scale(0.167 0.116)" font-size="100" font-weight="bold" fill="#157f3d">T</text>
<text transform="translate(1734.84 1396.10) scale(0.141 0.145)" font-size="100" font-weight="bold" fill="#c1121f">A</text>
<text transform="translate(1745.91 1403.99) scale(0.131 0.113)" font-size="100" font-weight="bold" fill="#f0a818">G</text>
<text transform="translate(1745.91 1396.10) scale(0.141 0.218)" font-size="100" font-weight="bold" fill="#c1121f">A</text>
<text transform="translate(1756.98 1403.42) scale(0.131 0.678)" font-size="100" font-weight="bold" fill="#f0a818">G</text>
<text transform="translate(1768.05 1404.10) scale(0.141 0.029)" font-size="100" font-weight="bold" fill="#c1121f">A</text>
<text transform="translate(1779.12 1404.07) scale(0.131 0.028)" font-size="100" font-weight="bold" fill="#f0a818">G</text>
<text transform="translate(1779.12 1402.10) scale(0.141 0.044)" font-size="100" font-weight="bold" fill="#c1121f">A</text>
<text transform="translate(1779.12 1399.10) scale(0.167 0.166)" font-size="100" font-weight="bold" fill="#157f3d">T</text>
<text transform="translate(1790.19 1404.06) scale(0.141 0.042)" font-size="100" font-weight="bold" fill="#2b3f9e">C</text>
<text transform="translate(1790.19 1401.06) scale(0.131 0.042)" font-size="100" font-weight="bold" fill="#f0a818">G</text>
<text transform="translate(1790.19 1398.10) scale(0.141 0.198)" font-size="100" font-weight="bold" fill="#c1121f">A</text>
<text transform="translate(1801.26 1404.06) scale(0.141 0.042)" font-size="100" font-weight="bold" fill="#2b3f9e">C</text>
<text transform="translate(1801.26 1401.06) scale(0.131 0.042)" font-size="100" font-weight="bold" fill="#f0a818">G</text>
<text transform="translate(1801.26 1398.10) scale(0.141 0.106)" font-size="100" font-weight="bold" fill="#c1121f">A</text>
<text transform="translate(1812.33 1404.10) scale(0.167 0.044)" font-size="100" font-weight="bold" fill="#157f3d">T</text>
<text transform="translate(1812.33 1401.04) scale(0.141 0.056)" font-size="100" font-weight="bold" fill="#2b3f9e">C</text>
<text transform="translate(1812.33 1397.01) scale(0.131 0.090)" font-size="100" font-weight="bold" fill="#f0a818">G</text>
<text transform="translate(1823.40 1404.07) scale(0.131 0.028)" font-size="100" font-weight="bold" fill="#f0a818">G</text>
<text transform="translate(1823.40 1402.10) scale(0.167 0.044)" font-size="100" font-weight="bold" fill="#157f3d">T</text>
<text transform="translate(1823.40 1399.10) scale(0.141 0.058)" font-size="100" font-weight="bold" fill="#c1121f">A</text>
<text transform="translate(1834.47 1404.10) scale(0.167 0.029)" font-size="100" font-weight="bold" fill="#157f3d">T</text>
<text transform="translate(1834.47 1402.06) scale(0.141 0.042)" font-size="100" font-weight="bold" fill="#2b3f9e">C</text>
<text transform="translate(1834.47 1399.04) scale(0.131 0.056)" font-size="100" font-weight="bold" fill="#f0a818">G</text>
<text transform="translate(1845.54 1404.03) scale(0.131 0.071)" font-size="100" font-weight="bold" fill="#f0a818">G</text>
<text transform="translate(1845.54 1399.10) scale(0.141 0.233)" font-size="100" font-weight="bold" fill="#c1121f">A</text>
<text transform="translate(2043.25 1394.36) scale(0.144 0.042)" font-size="100" font-weight="bold" fill="#2b3f9e">C</text>
<text transform="translate(2043.25 1391.36) scale(0.134 0.042)" font-size="100" font-weight="bold" fill="#f0a818">G</text>
<text transform="translate(2043.25 1388.40) scale(0.144 0.116)" font-size="100" font-weight="bold" fill="#c1121f">A</text>
<text transform="translate(2054.55 1394.36) scale(0.134 0.042)" font-size="100" font-weight="bold" fill="#f0a818">G</text>
<text transform="translate(2054.55 1391.40) scale(0.144 0.044)" font-size="100" font-weight="bold" fill="#c1121f">A</text>
<text transform="translate(2054.55 1388.40) scale(0.170 0.093)" font-size="100" font-weight="bold" fill="#157f3d">T</text>
<text transform="translate(2065.85 1394.34) scale(0.144 0.056)" font-size="100" font-weight="bold" fill="#2b3f9e">C</text>
<text transform="translate(2065.85 1390.40) scale(0.144 0.509)" font-size="100" font-weight="bold" fill="#c1121f">A</text>
<text transform="translate(2077.15 1394.34) scale(0.134 0.056)" font-size="100" font-weight="bold" fill="#f0a818">G</text>
<text transform="translate(2077.15 1390.40) scale(0.144 0.430)" font-size="100" font-weight="bold" fill="#c1121f">A</text>
<text transform="translate(2088.45 1394.40) scale(0.170 0.751)" font-size="100" font-weight="bold" fill="#157f3d">T</text>
<text transform="translate(2099.75 1394.37) scale(0.144 0.028)" font-size="100" font-weight="bold" fill="#2b3f9e">C</text>
<text transform="translate(2099.75 1392.36) scale(0.134 0.042)" font-size="100" font-weight="bold" fill="#f0a818">G</text>
<text transform="translate(2099.75 1389.40) scale(0.170 0.116)" font-size="100" font-weight="bold" fill="#157f3d">T</text>
<text transform="translate(2111.05 1394.40) scale(0.144 0.029)" font-size="100" font-weight="bold" fill="#c1121f">A</text>
<text transform="translate(2111.05 1392.36) scale(0.144 0.042)" font-size="100" font-weight="bold" fill="#2b3f9e">C</text>
<text transform="translate(2111.05 1389.36) scale(0.134 0.042)" font-size="100" font-weight="bold" fill="#f0a818">G</text>
<text transform="translate(2122.35 1394.40) scale(0.144 0.029)" font-size="100" font-weight="bold" fill="#c1121f">A</text>
<text transform="translate(2133.65 1394.40) scale(0.144 0.073)" font-size="100" font-weight="bold" fill="#c1121f">A</text>
<text transform="translate(2133.65 1389.40) scale(0.170 0.314)" font-size="100" font-weight="bold" fill="#157f3d">T</text>
<text transform="translate(2144.95 1394.33) scale(0.144 0.071)" font-size="100" font-weight="bold" fill="#2b3f9e">C</text>
<text transform="translate(2144.95 1389.40) scale(0.170 0.166)" font-size="100" font-weight="bold" fill="#157f3d">T</text>
<text transform="translate(2156.25 1394.40) scale(0.144 0.029)" font-size="100" font-weight="bold" fill="#c1121f">A</text>
<text transform="translate(2156.25 1392.36) scale(0.134 0.042)" font-size="100" font-weight="bold" fill="#f0a818">G</text>
<text transform="translate(2156.25 1389.40) scale(0.170 0.131)" font-size="100" font-weight="bold" fill="#157f3d">T</text>
<text transform="translate(1721.17 1501.50) scale(0.179 0.116)" font-size="100" font-weight="bold" fill="#157f3d">T</text>
<text transform="translate(1721.17 1493.26) scale(0.140 0.240)" font-size="100" font-weight="bold" fill="#f0a818">G</text>
<text transform="translate(1733.03 1501.43) scale(0.151 0.071)" font-size="100" font-weight="bold" fill="#2b3f9e">C</text>
<text transform="translate(1733.03 1496.50) scale(0.151 0.073)" font-size="100" font-weight="bold" fill="#c1121f">A</text>
<text transform="translate(1744.89 1501.50) scale(0.179 0.073)" font-size="100" font-weight="bold" fill="#157f3d">T</text>
<text transform="translate(1744.89 1496.40) scale(0.140 0.099)" font-size="100" font-weight="bold" fill="#f0a818">G</text>
<text transform="translate(1756.75 1501.50) scale(0.179 0.044)" font-size="100" font-weight="bold" fill="#157f3d">T</text>
<text transform="translate(1756.75 1498.50) scale(0.151 0.058)" font-size="100" font-weight="bold" fill="#c1121f">A</text>
<text transform="translate(1768.61 1501.50) scale(0.151 0.116)" font-size="100" font-weight="bold" fill="#c1121f">A</text>
<text transform="translate(1768.61 1493.33) scale(0.140 0.169)" font-size="100" font-weight="bold" fill="#f0a818">G</text>
<text transform="translate(1780.47 1501.50) scale(0.151 0.116)" font-size="100" font-weight="bold" fill="#c1121f">A</text>
<text transform="translate(1780.47 1493.37) scale(0.140 0.134)" font-size="100" font-weight="bold" fill="#f0a818">G</text>
<text transform="translate(1792.33 1501.42) scale(0.151 0.085)" font-size="100" font-weight="bold" fill="#2b3f9e">C</text>
<text transform="translate(1792.33 1495.50) scale(0.151 0.131)" font-size="100" font-weight="bold" fill="#c1121f">A</text>
<text transform="translate(1804.19 1501.46) scale(0.140 0.042)" font-size="100" font-weight="bold" fill="#f0a818">G</text>
<text transform="translate(1804.19 1498.50) scale(0.151 0.044)" font-size="100" font-weight="bold" fill="#c1121f">A</text>
<text transform="translate(1804.19 1495.44) scale(0.151 0.056)" font-size="100" font-weight="bold" fill="#2b3f9e">C</text>
<text transform="translate(1816.05 1501.42) scale(0.151 0.085)" font-size="100" font-weight="bold" fill="#2b3f9e">C</text>
<text transform="translate(1816.05 1495.50) scale(0.151 0.208)" font-size="100" font-weight="bold" fill="#c1121f">A</text>
<text transform="translate(1827.91 1501.39) scale(0.140 0.113)" font-size="100" font-weight="bold" fill="#f0a818">G</text>
<text transform="translate(1827.91 1493.50) scale(0.179 0.254)" font-size="100" font-weight="bold" fill="#157f3d">T</text>
<text transform="translate(1839.77 1501.43) scale(0.151 0.071)" font-size="100" font-weight="bold" fill="#2b3f9e">C</text>
<text transform="translate(1839.77 1496.40) scale(0.140 0.099)" font-size="100" font-weight="bold" fill="#f0a818">G</text>
<text transform="translate(2019.47 1518.50) scale(0.151 0.087)" font-size="100" font-weight="bold" fill="#c1121f">A</text>
<text transform="translate(2019.47 1512.33) scale(0.140 0.174)" font-size="100" font-weight="bold" fill="#f0a818">G</text>
<text transform="translate(2031.32 1518.50) scale(0.151 0.044)" font-size="100" font-weight="bold" fill="#c1121f">A</text>
<text transform="translate(2031.32 1515.50) scale(0.178 0.058)" font-size="100" font-weight="bold" fill="#157f3d">T</text>
<text transform="translate(2031.32 1511.42) scale(0.151 0.078)" font-size="100" font-weight="bold" fill="#2b3f9e">C</text>
<text transform="translate(2043.17 1518.50) scale(0.151 0.087)" font-size="100" font-weight="bold" fill="#c1121f">A</text>
<text transform="translate(2043.17 1512.32) scale(0.151 0.184)" font-size="100" font-weight="bold" fill="#2b3f9e">C</text>
<text transform="translate(2055.02 1518.50) scale(0.151 0.044)" font-size="100" font-weight="bold" fill="#c1121f">A</text>
<text transform="translate(2055.02 1515.46) scale(0.140 0.042)" font-size="100" font-weight="bold" fill="#f0a818">G</text>
<text transform="translate(2066.87 1518.50) scale(0.151 0.073)" font-size="100" font-weight="bold" fill="#c1121f">A</text>
<text transform="translate(2066.87 1513.50) scale(0.178 0.160)" font-size="100" font-weight="bold" fill="#157f3d">T</text>
<text transform="translate(2078.72 1518.37) scale(0.151 0.127)" font-size="100" font-weight="bold" fill="#2b3f9e">C</text>
<text transform="translate(2078.72 1509.50) scale(0.178 0.259)" font-size="100" font-weight="bold" fill="#157f3d">T</text>
<text transform="translate(2090.57 1518.50) scale(0.151 0.131)" font-size="100" font-weight="bold" fill="#c1121f">A</text>
<text transform="translate(2090.57 1509.31) scale(0.140 0.194)" font-size="100" font-weight="bold" fill="#f0a818">G</text>
<text transform="translate(2102.42 1518.50) scale(0.178 0.044)" font-size="100" font-weight="bold" fill="#157f3d">T</text>
<text transform="translate(2102.42 1515.46) scale(0.151 0.042)" font-size="100" font-weight="bold" fill="#2b3f9e">C</text>
<text transform="translate(2102.42 1512.44) scale(0.140 0.056)" font-size="100" font-weight="bold" fill="#f0a818">G</text>
<text transform="translate(2114.27 1518.50) scale(0.178 0.102)" font-size="100" font-weight="bold" fill="#157f3d">T</text>
<text transform="translate(2114.27 1511.32) scale(0.151 0.177)" font-size="100" font-weight="bold" fill="#2b3f9e">C</text>
<text transform="translate(2126.12 1518.40) scale(0.140 0.099)" font-size="100" font-weight="bold" fill="#f0a818">G</text>
<text transform="translate(2126.12 1511.50) scale(0.178 0.298)" font-size="100" font-weight="bold" fill="#157f3d">T</text>
<text transform="translate(2137.97 1518.50) scale(0.151 0.073)" font-size="100" font-weight="bold" fill="#c1121f">A</text>
<text transform="translate(2137.97 1513.50) scale(0.178 0.208)" font-size="100" font-weight="bold" fill="#157f3d">T</text>
<text transform="translate(1704.17 1596.94) scale(0.140 0.056)" font-size="100" font-weight="bold" fill="#f0a818">G</text>
<text transform="translate(1704.17 1593.00) scale(0.151 0.087)" font-size="100" font-weight="bold" fill="#c1121f">A</text>
<text transform="translate(1716.01 1596.92) scale(0.140 0.085)" font-size="100" font-weight="bold" fill="#f0a818">G</text>
<text transform="translate(1716.01 1590.81) scale(0.151 0.194)" font-size="100" font-weight="bold" fill="#2b3f9e">C</text>
<text transform="translate(1727.85 1596.94) scale(0.151 0.056)" font-size="100" font-weight="bold" fill="#2b3f9e">C</text>
<text transform="translate(1727.85 1593.00) scale(0.151 0.414)" font-size="100" font-weight="bold" fill="#c1121f">A</text>
<text transform="translate(1739.69 1596.97) scale(0.140 0.028)" font-size="100" font-weight="bold" fill="#f0a818">G</text>
<text transform="translate(1739.69 1595.00) scale(0.178 0.044)" font-size="100" font-weight="bold" fill="#157f3d">T</text>
<text transform="translate(1739.69 1592.00) scale(0.151 0.093)" font-size="100" font-weight="bold" fill="#c1121f">A</text>
<text transform="translate(1751.53 1597.00) scale(0.178 0.029)" font-size="100" font-weight="bold" fill="#157f3d">T</text>
<text transform="translate(1751.53 1594.96) scale(0.140 0.042)" font-size="100" font-weight="bold" fill="#f0a818">G</text>
<text transform="translate(1751.53 1592.00) scale(0.151 0.065)" font-size="100" font-weight="bold" fill="#c1121f">A</text>
<text transform="translate(1763.37 1597.00) scale(0.178 0.087)" font-size="100" font-weight="bold" fill="#157f3d">T</text>
<text transform="translate(1763.37 1590.89) scale(0.151 0.113)" font-size="100" font-weight="bold" fill="#2b3f9e">C</text>
<text transform="translate(1775.21 1596.94) scale(0.140 0.056)" font-size="100" font-weight="bold" fill="#f0a818">G</text>
<text transform="translate(1775.21 1593.00) scale(0.178 0.397)" font-size="100" font-weight="bold" fill="#157f3d">T</text>
<text transform="translate(1787.05 1596.94) scale(0.140 0.056)" font-size="100" font-weight="bold" fill="#f0a818">G</text>
<text transform="translate(1787.05 1593.00) scale(0.178 0.397)" font-size="100" font-weight="bold" fill="#157f3d">T</text>
<text transform="translate(1798.89 1596.97) scale(0.140 0.028)" font-size="100" font-weight="bold" fill="#f0a818">G</text>
<text transform="translate(1798.89 1595.00) scale(0.178 0.036)" font-size="100" font-weight="bold" fill="#157f3d">T</text>
<text transform="translate(1810.73 1596.92) scale(0.140 0.085)" font-size="100" font-weight="bold" fill="#f0a818">G</text>
<text transform="translate(1810.73 1591.00) scale(0.151 0.131)" font-size="100" font-weight="bold" fill="#c1121f">A</text>
<text transform="translate(1822.57 1596.97) scale(0.140 0.028)" font-size="100" font-weight="bold" fill="#f0a818">G</text>
<text transform="translate(1822.57 1595.00) scale(0.178 0.044)" font-size="100" font-weight="bold" fill="#157f3d">T</text>
<text transform="translate(1811.07 1623.20) scale(0.150 0.029)" font-size="100" font-weight="bold" fill="#c1121f">A</text>
<text transform="translate(1811.07 1621.16) scale(0.140 0.042)" font-size="100" font-weight="bold" fill="#f0a818">G</text>
<text transform="translate(1811.07 1618.14) scale(0.150 0.064)" font-size="100" font-weight="bold" fill="#2b3f9e">C</text>
<text transform="translate(1822.87 1623.20) scale(0.150 0.058)" font-size="100" font-weight="bold" fill="#c1121f">A</text>
<text transform="translate(1822.87 1619.20) scale(0.178 0.122)" font-size="100" font-weight="bold" fill="#157f3d">T</text>
<text transform="translate(1834.67 1623.12) scale(0.150 0.085)" font-size="100" font-weight="bold" fill="#2b3f9e">C</text>
<text transform="translate(1834.67 1617.20) scale(0.178 0.145)" font-size="100" font-weight="bold" fill="#157f3d">T</text>
<text transform="translate(1846.47 1623.12) scale(0.150 0.085)" font-size="100" font-weight="bold" fill="#2b3f9e">C</text>
<text transform="translate(1846.47 1616.93) scale(0.140 0.268)" font-size="100" font-weight="bold" fill="#f0a818">G</text>
<text transform="translate(1858.27 1623.12) scale(0.150 0.085)" font-size="100" font-weight="bold" fill="#2b3f9e">C</text>
<text transform="translate(1858.27 1616.97) scale(0.150 0.226)" font-size="100" font-weight="bold" fill="#2b3f9e">C</text>
<text transform="translate(1870.07 1623.20) scale(0.178 0.087)" font-size="100" font-weight="bold" fill="#157f3d">T</text>
<text transform="translate(1870.07 1617.01) scale(0.150 0.194)" font-size="100" font-weight="bold" fill="#2b3f9e">C</text>
<text transform="translate(1881.87 1623.17) scale(0.140 0.028)" font-size="100" font-weight="bold" fill="#f0a818">G</text>
<text transform="translate(1881.87 1621.20) scale(0.150 0.044)" font-size="100" font-weight="bold" fill="#c1121f">A</text>
<text transform="translate(1881.87 1618.20) scale(0.178 0.116)" font-size="100" font-weight="bold" fill="#157f3d">T</text>
<text transform="translate(1893.67 1623.14) scale(0.140 0.056)" font-size="100" font-weight="bold" fill="#f0a818">G</text>
<text transform="translate(1893.67 1619.20) scale(0.178 0.331)" font-size="100" font-weight="bold" fill="#157f3d">T</text>
<text transform="translate(1905.47 1623.20) scale(0.150 0.073)" font-size="100" font-weight="bold" fill="#c1121f">A</text>
<text transform="translate(1905.47 1617.91) scale(0.150 0.290)" font-size="100" font-weight="bold" fill="#2b3f9e">C</text>
<text transform="translate(1917.27 1623.17) scale(0.140 0.028)" font-size="100" font-weight="bold" fill="#f0a818">G</text>
<text transform="translate(1917.27 1621.20) scale(0.150 0.058)" font-size="100" font-weight="bold" fill="#c1121f">A</text>
<text transform="translate(1917.27 1617.20) scale(0.150 0.166)" font-size="100" font-weight="bold" fill="#c1121f">A</text>
<text transform="translate(1929.07 1623.17) scale(0.150 0.028)" font-size="100" font-weight="bold" fill="#2b3f9e">C</text>
<text transform="translate(1929.07 1621.14) scale(0.140 0.056)" font-size="100" font-weight="bold" fill="#f0a818">G</text>
<text transform="translate(1929.07 1617.20) scale(0.178 0.145)" font-size="100" font-weight="bold" fill="#157f3d">T</text>
<text transform="translate(2037.47 1658.97) scale(0.140 0.028)" font-size="100" font-weight="bold" fill="#f0a818">G</text>
<text transform="translate(2037.47 1657.00) scale(0.178 0.044)" font-size="100" font-weight="bold" fill="#157f3d">T</text>
<text transform="translate(2037.47 1654.00) scale(0.150 0.065)" font-size="100" font-weight="bold" fill="#c1121f">A</text>
<text transform="translate(2049.27 1659.00) scale(0.178 0.174)" font-size="100" font-weight="bold" fill="#157f3d">T</text>
<text transform="translate(2049.27 1647.00) scale(0.150 0.156)" font-size="100" font-weight="bold" fill="#c1121f">A</text>
<text transform="translate(2061.07 1658.97) scale(0.150 0.028)" font-size="100" font-weight="bold" fill="#2b3f9e">C</text>
<text transform="translate(2061.07 1657.00) scale(0.178 0.073)" font-size="100" font-weight="bold" fill="#157f3d">T</text>
<text transform="translate(2061.07 1651.90) scale(0.140 0.099)" font-size="100" font-weight="bold" fill="#f0a818">G</text>
<text transform="translate(2072.87 1659.00) scale(0.178 0.102)" font-size="100" font-weight="bold" fill="#157f3d">T</text>
<text transform="translate(2072.87 1652.00) scale(0.150 0.247)" font-size="100" font-weight="bold" fill="#c1121f">A</text>
<text transform="translate(2084.67 1658.90) scale(0.150 0.099)" font-size="100" font-weight="bold" fill="#2b3f9e">C</text>
<text transform="translate(2084.67 1651.90) scale(0.140 0.103)" font-size="100" font-weight="bold" fill="#f0a818">G</text>
<text transform="translate(2096.47 1658.89) scale(0.140 0.113)" font-size="100" font-weight="bold" fill="#f0a818">G</text>
<text transform="translate(2096.47 1650.73) scale(0.150 0.274)" font-size="100" font-weight="bold" fill="#2b3f9e">C</text>
<text transform="translate(2108.27 1659.00) scale(0.178 0.131)" font-size="100" font-weight="bold" fill="#157f3d">T</text>
<text transform="translate(2108.27 1650.00) scale(0.150 0.182)" font-size="100" font-weight="bold" fill="#c1121f">A</text>
<text transform="translate(2120.07 1659.00) scale(0.178 0.131)" font-size="100" font-weight="bold" fill="#157f3d">T</text>
<text transform="translate(2120.07 1650.00) scale(0.150 0.182)" font-size="100" font-weight="bold" fill="#c1121f">A</text>
<text transform="translate(2131.87 1659.00) scale(0.178 0.044)" font-size="100" font-weight="bold" fill="#157f3d">T</text>
<text transform="translate(2131.87 1655.96) scale(0.140 0.042)" font-size="100" font-weight="bold" fill="#f0a818">G</text>
<text transform="translate(2143.67 1658.93) scale(0.150 0.071)" font-size="100" font-weight="bold" fill="#2b3f9e">C</text>
<text transform="translate(2143.67 1653.70) scale(0.140 0.297)" font-size="100" font-weight="bold" fill="#f0a818">G</text>
<text transform="translate(2155.47 1659.00) scale(0.150 0.044)" font-size="100" font-weight="bold" fill="#c1121f">A</text>
<text transform="translate(2155.47 1656.00) scale(0.178 0.073)" font-size="100" font-weight="bold" fill="#157f3d">T</text>
</svg>
</body></html>
